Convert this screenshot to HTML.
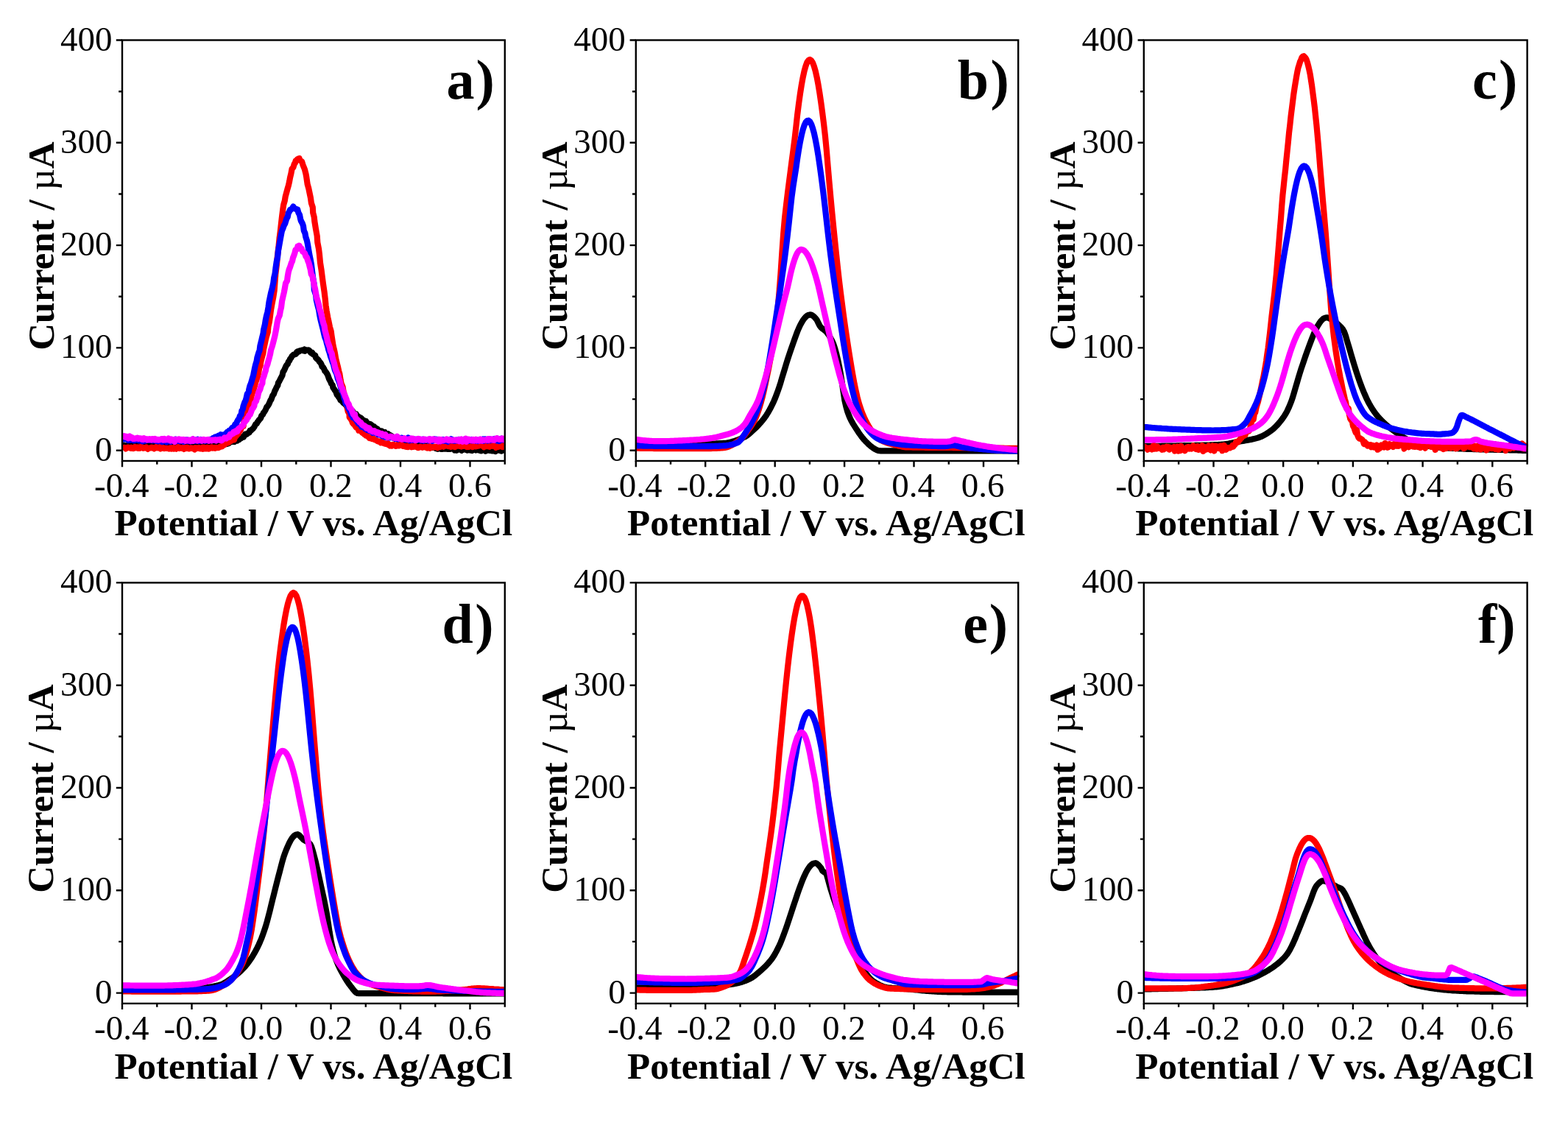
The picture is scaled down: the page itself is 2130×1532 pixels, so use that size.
<!DOCTYPE html>
<html lang="en">
<head>
<meta charset="utf-8">
<title>Differential pulse voltammograms</title>
<style>
html,body{margin:0;padding:0;background:#fff;}
body{width:2130px;height:1532px;overflow:hidden;}
svg{display:block;}
text{font-family:"Liberation Serif","Times New Roman",serif;fill:#000;}
.t text{font-size:47px;}
.a{font-size:51px;font-weight:bold;}
.mu{font-weight:normal;}
.p{font-size:76px;font-weight:bold;}
</style>
</head>
<body>
<svg width="2130" height="1532" viewBox="0 0 2130 1532">
<rect width="2130" height="1532" fill="#fff"/>
<g>
<clipPath id="c00"><rect x="166.0" y="54.5" width="521.1" height="571.5"/></clipPath>
<g clip-path="url(#c00)" fill="none" stroke-linejoin="round" stroke-linecap="butt" stroke-width="8.2">
<polyline stroke="#000000" points="166.0,604.7 166.8,604.5 168.4,605.0 170.0,605.5 170.6,605.2 172.5,605.6 173.5,604.9 174.4,603.9 175.8,605.3 177.0,605.5 178.4,604.6 179.5,604.8 180.7,605.0 182.0,605.8 183.1,605.1 184.3,604.6 185.8,606.2 187.3,605.5 187.9,606.6 189.6,606.2 190.6,606.6 191.8,605.4 193.5,606.2 194.4,605.1 196.2,605.2 196.8,605.5 198.4,607.3 199.4,605.8 200.5,605.4 202.2,605.3 203.2,606.6 204.6,605.8 205.7,606.2 206.7,606.0 208.2,604.6 209.5,606.0 210.9,605.5 211.7,604.8 213.1,605.9 213.9,605.5 215.8,605.3 216.6,605.4 217.6,606.4 219.3,605.4 220.9,604.4 221.4,606.6 222.8,604.8 224.1,605.3 225.3,605.9 226.9,603.9 227.8,604.8 229.1,606.4 230.7,605.4 231.6,605.0 233.1,605.6 234.0,604.9 235.2,605.5 236.2,604.9 238.5,604.3 239.1,605.9 240.5,605.3 241.7,605.8 243.0,605.3 244.2,606.3 246.0,605.9 246.4,605.6 247.5,604.7 248.9,604.6 250.0,606.4 251.8,606.0 253.1,604.9 253.8,607.0 255.0,605.8 256.5,605.5 258.2,604.5 258.3,604.9 260.5,605.7 261.3,605.7 263.1,605.6 263.7,604.3 265.2,605.7 266.1,605.6 267.5,605.1 269.4,605.4 270.5,605.5 271.4,606.2 272.5,605.3 273.4,605.6 275.1,604.3 276.4,604.7 277.7,605.1 278.9,604.6 279.9,605.3 281.4,604.2 282.6,604.9 284.3,604.4 285.7,605.8 286.3,604.5 287.4,606.0 288.8,606.2 289.9,604.8 291.1,605.2 292.6,604.3 293.5,602.6 295.2,604.9 296.3,604.7 297.6,603.9 298.7,603.6 299.8,604.0 301.0,603.9 302.4,603.0 303.6,602.9 305.1,603.8 306.2,602.8 307.1,602.4 308.7,602.9 309.6,601.5 311.0,602.0 312.4,600.1 313.1,600.3 315.0,599.9 316.2,599.9 317.4,599.1 318.5,600.0 319.8,598.8 320.9,597.1 322.3,598.5 323.5,595.6 324.9,597.0 325.8,594.5 327.4,595.2 328.6,593.3 329.8,593.1 330.9,593.6 332.5,590.7 333.1,589.6 334.9,589.9 336.1,589.0 337.3,587.9 338.6,587.5 339.6,584.7 340.9,584.8 342.4,583.1 343.6,582.2 344.8,580.6 345.5,579.6 347.3,576.0 348.8,575.4 350.0,572.8 351.0,571.8 351.7,570.6 353.7,568.5 354.6,566.8 355.2,564.5 357.2,562.8 357.9,560.6 359.2,559.3 360.7,556.7 362.4,552.6 363.2,552.2 364.6,550.1 366.3,546.6 367.5,543.3 368.3,543.0 369.5,539.4 370.4,537.1 371.8,535.4 373.4,530.7 374.6,528.6 375.8,525.7 377.3,523.5 378.0,519.8 379.4,517.8 380.9,514.7 382.1,512.5 383.5,509.8 384.5,505.0 385.6,503.8 387.0,500.7 387.9,498.6 388.9,496.5 390.8,494.3 391.9,491.2 393.2,489.8 393.9,487.8 395.5,485.9 396.7,483.6 397.8,482.7 398.7,481.7 400.5,481.2 402.1,480.8 403.1,478.2 404.1,477.4 405.5,477.8 407.0,476.9 407.2,476.3 409.2,475.9 410.6,475.5 411.9,476.3 413.4,474.7 414.5,476.7 415.5,475.1 416.8,475.6 418.2,475.7 419.0,475.4 420.4,476.2 421.9,478.8 423.4,479.8 424.1,478.8 425.4,481.4 426.7,482.0 428.2,482.7 429.1,486.0 430.8,487.8 431.3,487.6 432.8,489.3 434.0,491.3 435.5,492.8 436.8,495.4 437.4,497.8 438.8,498.7 440.4,501.4 441.3,504.0 442.3,504.7 444.3,507.6 445.4,509.8 446.6,513.5 447.6,515.8 449.2,518.6 450.1,521.1 451.7,522.9 452.4,526.3 453.7,528.1 455.2,530.6 456.2,531.7 457.8,536.4 459.0,536.5 459.9,539.1 461.4,540.7 462.5,543.5 464.1,544.3 464.9,544.9 466.2,546.9 467.9,548.2 469.4,549.9 470.6,550.1 471.3,552.3 472.6,555.2 474.2,555.3 475.0,557.5 476.0,559.6 477.5,558.6 478.9,558.3 479.8,560.3 480.8,562.3 482.1,563.1 483.9,562.5 484.7,564.2 486.2,565.3 487.5,566.3 488.8,567.1 489.8,567.4 491.3,568.5 492.1,569.6 493.5,571.5 494.6,571.1 496.4,572.9 497.4,572.4 498.4,575.0 499.7,575.0 501.0,575.7 502.5,577.5 503.1,576.0 504.5,577.0 505.9,579.3 508.0,579.1 508.8,580.2 509.7,583.3 511.2,581.8 512.8,582.8 513.4,583.5 514.6,585.1 516.3,585.2 517.4,585.8 518.6,585.4 519.6,586.7 521.5,587.6 522.7,587.0 523.6,589.2 524.9,589.7 525.3,591.4 527.3,589.3 528.3,590.3 529.7,590.9 531.1,591.6 532.0,592.6 532.9,593.0 534.7,593.9 535.6,594.3 537.0,594.6 538.1,594.0 539.5,595.2 540.2,596.1 542.4,597.0 543.4,597.4 544.8,596.1 546.3,597.3 547.0,598.0 547.7,598.7 549.2,599.6 550.4,599.1 551.8,598.7 553.2,600.0 553.9,600.1 555.8,600.4 556.5,600.4 558.3,602.0 559.4,601.2 560.6,601.9 561.9,600.9 563.0,602.4 564.2,601.7 565.1,601.2 566.9,603.0 568.6,603.5 569.9,603.3 571.0,603.8 572.0,604.9 572.9,604.1 574.7,603.3 575.5,605.4 576.8,605.7 577.9,606.7 579.3,606.0 580.4,607.6 581.7,607.8 582.7,606.2 584.1,608.2 586.1,606.9 586.7,606.8 587.9,608.0 589.3,608.0 590.6,607.0 591.4,608.8 592.9,609.2 594.4,609.9 595.5,608.9 596.7,607.9 598.3,608.4 598.9,609.9 600.4,610.0 601.5,609.8 603.3,609.2 603.5,609.7 605.1,609.4 606.4,609.4 608.0,610.0 609.2,609.8 610.7,609.7 611.1,610.0 613.0,609.6 613.9,608.6 615.1,609.6 616.7,610.1 617.5,611.5 618.4,610.0 620.1,611.8 621.0,611.4 622.5,609.7 624.1,609.9 625.3,610.6 626.9,611.8 627.6,610.8 628.5,611.1 629.9,610.1 631.1,608.9 632.3,610.5 634.0,611.3 634.9,611.7 635.8,610.8 637.8,611.0 638.8,611.7 640.2,610.8 641.4,611.8 642.7,610.1 643.8,610.2 645.4,610.2 646.4,611.4 647.6,610.7 648.9,611.2 649.6,611.4 651.2,611.4 652.4,612.2 653.8,612.3 654.6,610.7 656.7,611.4 657.5,611.2 658.4,610.6 659.5,612.7 661.1,612.0 662.4,611.3 663.5,611.1 664.9,611.8 666.0,610.7 667.5,611.3 668.4,612.5 669.9,612.3 671.4,610.9 673.1,611.2 673.3,613.1 674.7,610.6 675.8,611.2 677.5,610.6 678.2,611.9 679.7,611.9 681.0,612.5 682.0,609.7 683.2,611.8 684.6,610.5 685.4,612.2"/>
<polyline stroke="#ff0000" points="166.1,609.0 167.4,608.3 168.3,607.9 169.9,608.2 170.8,609.4 171.9,608.4 173.5,607.5 174.9,607.7 175.8,608.2 177.3,608.8 178.4,607.7 180.4,608.6 180.7,609.1 182.5,608.8 183.4,607.1 184.6,608.1 186.1,607.4 187.3,608.7 188.7,607.6 189.7,608.8 190.7,608.5 191.9,606.5 193.4,607.8 194.7,608.8 196.2,608.5 197.1,608.2 198.6,607.5 199.9,608.9 200.8,609.8 201.6,608.7 202.9,608.5 204.1,608.5 206.2,607.6 206.7,608.3 208.5,608.0 209.6,609.4 211.2,607.9 212.2,607.0 213.1,608.0 214.3,608.5 215.7,608.5 216.9,607.3 218.0,609.4 219.4,608.8 221.1,608.3 221.4,608.1 223.2,609.1 224.1,608.5 225.6,609.0 227.0,608.7 228.0,608.9 229.5,609.6 230.1,608.8 232.1,608.1 232.8,609.5 234.4,609.0 235.5,608.3 236.0,609.6 237.8,608.7 239.3,609.7 240.9,608.0 241.8,607.1 243.0,607.3 243.8,609.0 245.8,608.3 247.2,608.8 247.9,608.8 249.1,607.7 249.9,609.9 251.9,608.1 253.6,608.9 254.3,607.8 255.7,608.8 256.7,609.4 257.6,608.7 259.5,608.3 260.0,608.9 261.5,608.5 262.9,609.3 264.3,610.5 265.4,608.2 266.6,608.4 267.6,608.8 268.6,608.8 270.3,608.1 271.3,609.2 272.4,609.4 273.6,609.0 275.1,607.9 275.9,609.8 277.3,607.8 278.5,609.2 280.2,609.5 281.5,607.7 283.2,608.7 283.5,609.6 285.0,608.8 286.6,607.8 287.6,607.5 288.8,608.7 290.6,608.1 291.3,607.8 292.3,608.8 293.5,607.9 295.2,608.1 296.4,608.2 297.2,607.9 298.5,607.0 300.2,606.5 301.4,606.4 302.3,605.7 303.9,603.9 305.2,603.9 305.7,602.7 307.4,601.8 308.8,601.6 309.8,599.6 310.6,601.2 312.4,599.1 313.9,599.0 315.4,596.4 315.6,595.5 318.1,597.2 318.3,595.3 320.2,592.8 321.5,591.3 322.6,589.9 323.7,589.0 324.5,586.9 326.3,585.0 327.1,583.3 327.9,579.6 330.6,578.9 331.3,573.0 332.8,570.4 333.3,564.7 335.2,561.5 336.5,557.9 337.7,552.9 338.5,550.1 339.4,546.2 340.9,542.7 341.6,537.5 343.0,533.0 344.7,528.4 345.7,524.9 347.1,519.6 348.4,515.8 350.2,511.1 351.3,505.7 352.1,500.3 353.7,496.2 354.4,490.9 355.8,485.4 357.4,479.8 358.0,475.0 359.5,467.9 360.5,463.1 362.1,456.4 363.8,451.1 364.4,443.7 365.9,437.0 366.8,430.6 368.0,421.2 369.2,414.3 371.2,404.0 372.7,394.3 373.4,384.5 374.3,372.5 375.9,359.8 376.9,347.9 378.4,335.8 379.5,324.3 380.8,314.2 382.1,302.4 383.0,294.5 384.3,284.2 385.2,278.2 386.8,272.6 387.7,267.0 389.3,261.1 390.4,257.0 391.9,251.9 393.2,246.1 394.0,241.5 395.4,235.7 396.6,229.3 398.3,227.5 399.8,222.7 400.8,221.5 401.7,218.4 403.5,217.4 403.9,216.2 405.9,215.4 406.6,215.2 407.2,217.7 410.0,219.3 410.9,222.1 411.4,223.7 413.0,227.7 414.1,230.7 415.5,236.2 416.3,240.8 417.7,250.4 419.3,256.0 420.5,261.9 422.0,269.2 422.9,275.7 424.8,281.6 425.2,289.0 426.7,294.7 427.3,300.5 428.8,309.8 430.7,320.4 431.3,329.3 433.0,338.0 434.0,346.1 435.0,356.9 436.5,366.3 437.6,374.9 438.9,385.0 440.5,395.8 441.7,405.7 442.6,415.0 443.7,422.4 445.3,431.1 446.4,436.1 448.0,444.1 449.7,449.9 450.4,455.2 451.4,461.9 452.6,469.6 453.7,473.9 454.9,479.4 456.1,486.6 457.5,492.5 458.8,497.5 460.3,504.2 461.3,507.4 462.6,515.9 463.5,520.5 465.6,525.5 466.5,531.3 468.1,536.7 469.0,542.2 470.5,547.9 471.2,551.7 472.7,559.0 474.5,562.0 474.7,566.6 476.6,569.0 478.0,571.3 478.9,574.2 480.2,575.8 481.6,576.4 482.3,578.2 483.8,580.4 484.7,579.6 486.0,580.6 487.3,584.7 488.6,584.5 490.0,583.9 491.3,586.3 492.0,587.7 494.2,588.9 495.2,590.1 496.3,590.6 497.3,591.7 498.6,591.4 500.0,593.0 501.2,593.8 501.8,595.1 503.8,594.8 505.6,596.1 505.5,596.2 507.6,595.9 508.6,596.9 509.7,597.4 511.4,598.0 511.9,598.7 513.5,599.3 515.2,599.9 515.9,599.5 517.1,601.3 518.5,599.8 519.6,601.2 521.4,602.1 521.9,602.3 523.7,602.8 524.3,602.4 526.1,603.4 527.1,602.3 527.6,604.0 529.6,605.4 530.6,604.4 532.0,605.6 533.8,604.3 534.3,603.7 535.5,604.2 537.5,605.9 538.3,605.6 540.0,603.8 540.9,605.1 541.8,605.5 543.3,604.8 544.9,603.9 546.0,604.9 547.0,605.8 548.3,605.7 549.5,605.6 550.6,606.6 552.5,607.0 553.2,606.2 554.1,607.1 555.6,606.5 557.1,606.4 558.4,604.7 559.4,607.2 560.5,606.7 561.9,606.8 562.7,606.4 564.0,606.0 565.8,607.2 566.7,607.5 568.2,608.2 569.7,607.7 570.8,606.6 571.8,607.0 573.7,607.8 574.5,607.4 575.4,607.1 577.0,606.7 578.1,607.6 579.0,607.3 580.5,608.5 581.7,608.0 582.4,605.9 584.2,608.8 585.4,607.3 586.6,606.9 587.5,607.3 589.1,607.6 590.4,606.9 591.7,606.8 592.6,606.8 594.3,608.2 595.1,606.8 596.6,607.2 598.3,606.9 598.9,606.3 600.2,605.9 601.9,605.6 602.7,606.6 604.0,605.5 605.4,605.2 606.9,605.2 607.2,604.9 608.8,606.1 610.0,606.1 611.2,605.3 612.5,606.9 613.8,605.7 615.3,606.3 616.2,606.1 617.8,607.2 619.1,606.5 620.0,605.9 621.5,605.2 623.2,605.1 624.0,605.9 625.0,606.0 626.4,606.5 627.4,605.5 629.0,606.0 630.4,605.4 631.2,604.5 632.6,605.9 634.2,607.0 635.0,606.5 636.4,607.0 637.3,606.8 638.6,604.9 639.9,605.7 641.9,607.0 642.4,605.4 643.7,604.9 644.9,606.1 646.2,606.4 647.7,606.1 648.8,605.7 650.6,605.4 651.3,605.0 652.9,605.0 653.8,605.0 655.1,604.9 655.8,605.4 657.4,607.1 658.7,606.0 659.9,605.7 660.6,606.2 662.7,605.2 663.6,606.2 664.8,606.7 666.1,604.8 667.3,605.5 668.7,605.8 669.5,605.3 670.8,605.2 672.4,605.7 673.6,607.9 674.7,606.5 675.9,606.4 677.1,606.8 678.5,605.9 680.1,605.1 680.7,606.4 682.7,607.0 683.8,604.5 684.6,606.5 686.2,607.1"/>
<polyline stroke="#0000ff" points="166.4,596.1 167.2,596.5 168.8,596.4 169.9,595.9 170.9,596.0 172.2,596.3 173.5,596.0 174.4,597.9 176.3,596.1 176.8,597.7 178.7,597.3 179.9,597.3 180.9,598.0 181.9,598.3 183.3,598.1 184.7,597.5 186.1,597.1 187.2,597.2 188.6,598.5 189.4,598.4 190.9,598.5 191.6,597.5 193.5,599.4 194.6,597.0 195.7,598.3 197.4,598.6 198.5,597.7 198.7,597.2 200.8,597.8 201.6,597.3 203.5,598.0 205.2,597.2 205.6,597.2 207.0,598.3 208.1,597.1 209.5,598.1 210.9,598.2 212.3,599.0 212.9,598.5 214.8,597.7 215.4,599.3 217.0,597.8 218.4,598.1 219.6,598.2 220.3,600.1 221.7,598.5 223.0,597.9 224.3,599.0 225.9,598.4 226.4,600.3 228.2,597.9 229.5,599.0 230.7,597.8 231.9,599.9 233.4,597.9 234.4,598.6 235.7,597.8 236.9,599.2 238.5,598.9 238.7,596.7 240.8,599.1 241.6,599.0 242.9,598.7 243.9,599.2 244.9,597.5 246.6,597.1 247.7,599.0 249.3,599.8 250.0,597.5 252.0,597.6 252.9,597.8 254.0,597.5 255.2,599.1 256.4,598.5 257.5,599.4 258.9,599.4 260.3,597.6 261.5,598.8 262.4,596.6 264.0,598.2 265.0,598.8 266.6,597.6 268.3,596.8 269.2,597.8 270.2,599.1 271.0,597.9 272.3,597.1 273.5,598.5 275.4,598.6 276.2,597.2 277.7,597.9 278.8,598.8 280.2,598.2 281.8,598.4 282.5,597.6 283.8,597.7 284.9,596.8 286.6,596.8 287.3,598.0 288.5,595.9 289.7,594.8 291.0,594.4 292.7,593.3 294.5,594.0 294.8,593.8 296.6,591.8 297.6,592.9 298.5,593.3 300.0,590.4 301.2,591.3 302.3,590.5 304.3,590.8 304.5,590.2 306.3,589.4 307.6,588.1 308.6,586.8 310.0,588.0 311.4,584.7 312.5,585.2 313.8,584.0 315.1,581.5 315.6,580.8 317.8,580.5 319.3,576.5 320.2,577.0 321.4,574.5 322.0,572.7 323.6,569.9 324.6,569.1 325.9,565.0 327.6,563.0 328.4,558.0 329.8,555.7 330.5,551.8 332.3,546.5 333.6,544.1 334.6,540.5 335.8,535.0 337.8,532.5 338.2,529.3 339.5,523.9 340.8,521.1 342.6,514.8 344.1,510.0 344.8,506.4 345.8,501.2 347.1,495.4 348.7,490.2 349.4,485.7 351.3,479.3 352.6,476.0 353.4,469.5 354.8,464.1 356.1,458.5 357.6,452.5 358.1,447.9 359.9,440.6 360.7,435.1 361.9,429.3 363.4,423.7 364.5,417.4 365.5,410.1 366.6,404.9 368.0,398.0 369.9,390.9 371.3,384.4 372.2,377.2 373.6,371.4 374.4,364.7 375.7,355.7 377.1,349.0 377.9,340.8 379.2,333.8 380.7,325.2 381.9,318.8 382.9,313.8 384.5,309.9 385.6,306.6 387.2,303.7 388.1,300.8 389.3,297.0 390.7,294.7 391.8,289.3 392.9,287.7 394.2,284.8 395.8,284.2 397.0,283.1 398.4,280.6 398.8,282.0 400.4,283.2 401.7,283.7 403.1,284.9 404.2,284.6 405.4,288.8 407.0,291.9 408.1,297.3 408.9,300.0 410.9,303.7 412.0,307.0 412.8,313.2 414.4,316.7 415.2,321.4 417.0,327.1 417.9,331.5 418.9,337.5 420.3,345.7 421.4,350.8 423.0,359.4 424.2,369.4 425.4,379.1 426.5,385.1 426.8,393.8 429.1,400.7 429.8,407.5 431.7,415.6 433.1,420.8 434.1,427.5 435.2,433.0 436.5,438.4 437.8,443.5 438.9,447.6 440.1,453.2 441.3,458.0 443.1,462.6 444.0,466.5 445.5,471.6 446.4,475.5 447.7,479.2 448.9,483.7 450.3,487.4 451.7,491.8 452.7,493.8 453.7,498.2 454.9,502.7 456.9,507.0 457.6,509.0 458.8,514.2 460.5,518.2 461.7,521.7 462.8,525.5 463.7,528.6 465.8,533.5 466.4,535.7 467.7,541.6 468.8,543.9 469.7,548.4 470.9,549.2 472.7,553.5 473.9,555.8 475.0,557.4 475.9,559.4 477.1,563.3 478.7,564.7 479.6,567.3 481.5,567.8 482.8,569.5 484.5,571.2 485.2,572.8 486.0,573.9 487.2,575.5 487.7,575.7 489.7,576.0 491.1,579.7 492.7,579.3 493.8,580.4 495.0,580.6 496.2,582.4 497.5,582.5 499.0,583.9 499.5,583.2 501.0,584.3 501.9,585.1 504.0,585.3 505.2,586.3 506.3,587.8 507.0,586.7 508.6,587.4 509.7,588.2 511.0,587.8 512.2,588.0 513.6,590.2 514.6,590.4 516.2,589.1 517.3,589.6 518.4,591.6 519.7,592.4 520.8,592.3 522.4,592.6 523.3,593.8 524.7,592.9 525.8,594.2 526.7,594.4 528.6,593.0 529.3,594.5 531.1,594.3 532.2,593.9 532.9,594.0 534.3,595.0 535.7,594.9 536.8,595.8 538.0,594.0 539.8,594.9 540.7,596.4 542.1,595.7 543.2,595.3 544.6,595.6 545.6,594.6 547.0,595.1 548.4,596.6 549.5,596.4 550.6,597.3 551.7,596.2 553.3,596.4 554.5,594.5 555.6,596.5 556.7,598.3 558.3,597.3 560.1,596.7 560.6,597.8 562.0,597.6 563.2,597.2 563.7,596.7 565.7,597.2 566.7,597.8 568.5,596.5 569.3,597.6 570.4,597.6 571.8,598.3 573.1,597.9 574.1,596.8 575.5,598.6 576.4,597.5 578.0,596.9 579.5,597.7 581.1,597.3 581.9,598.4 583.1,596.5 584.6,596.7 585.8,597.4 587.2,599.0 588.3,598.5 589.2,596.9 590.5,596.4 591.7,597.5 593.0,596.8 594.2,598.3 595.2,598.0 596.1,597.8 597.7,597.5 598.6,599.1 600.4,597.2 601.6,596.9 602.4,598.8 604.3,599.0 605.6,597.7 606.6,598.5 608.3,599.8 609.6,597.4 610.0,597.9 611.8,598.4 612.9,596.4 614.1,597.9 615.5,598.6 616.3,598.0 617.6,598.8 618.8,598.6 620.0,597.7 621.4,598.5 622.3,598.4 623.7,596.8 625.4,597.4 626.4,597.4 627.8,597.6 628.4,597.7 629.9,596.9 631.2,598.0 632.6,596.6 633.7,598.7 635.4,598.2 636.3,599.0 637.6,598.2 638.8,597.6 640.3,596.9 641.2,598.5 642.9,597.9 643.9,598.2 645.1,598.5 646.3,598.8 647.7,597.8 649.1,599.2 650.3,597.8 651.4,597.8 652.7,598.3 653.8,598.6 655.3,598.9 656.2,596.4 656.9,598.8 659.1,596.6 660.0,597.3 660.9,598.0 662.4,598.6 663.4,596.9 665.5,596.3 666.3,598.3 666.9,597.8 668.8,596.8 669.8,597.3 671.6,596.0 672.1,597.9 673.0,597.0 674.8,598.4 676.0,595.8 677.2,597.9 678.0,599.0 679.9,597.4 681.5,597.3 681.7,595.7 683.8,597.4 684.6,597.1 686.7,596.6"/>
<polyline stroke="#ff00ff" points="166.4,592.1 167.3,592.8 168.4,592.1 170.1,592.7 170.9,593.8 172.1,593.0 173.3,594.1 174.1,595.3 176.2,592.5 176.8,594.5 178.3,594.9 179.4,594.3 181.1,596.0 182.1,595.9 183.4,595.4 184.1,595.6 185.8,595.3 186.7,594.6 188.4,595.9 189.7,595.3 190.8,595.3 192.6,596.7 193.5,595.8 194.7,596.8 195.8,595.3 197.0,595.9 198.5,596.3 199.8,597.4 200.4,596.4 202.3,597.2 203.4,596.1 204.7,596.8 205.8,597.4 206.6,596.1 207.9,596.3 209.9,597.4 210.7,596.1 211.5,597.3 213.3,597.3 214.3,597.0 215.1,597.7 216.2,597.5 217.7,597.3 219.4,596.0 220.6,596.1 221.8,597.5 223.2,596.1 224.5,597.4 225.0,597.1 226.7,596.7 227.8,597.2 228.9,595.6 230.4,597.3 231.7,598.4 232.9,596.5 233.9,597.8 235.4,597.8 237.3,599.9 237.7,596.8 238.7,597.0 240.5,597.0 241.9,596.9 243.1,596.4 243.9,597.7 245.7,597.0 246.4,598.3 247.6,598.0 249.0,596.9 250.4,597.4 251.8,598.8 253.0,597.5 254.1,597.9 255.6,598.4 256.6,597.4 258.1,598.1 258.7,599.0 259.9,598.6 261.8,596.4 262.4,598.9 264.0,597.6 265.3,597.3 266.4,597.3 267.6,598.7 269.4,598.0 269.5,597.6 271.7,597.1 273.4,598.2 274.0,598.6 275.2,597.0 276.7,596.9 278.2,597.4 278.6,598.2 280.2,597.4 281.4,597.6 282.8,597.0 283.9,598.6 285.3,597.6 286.3,597.8 287.6,598.5 288.7,597.5 289.9,597.6 291.3,597.9 292.5,597.3 293.5,598.6 295.5,597.6 296.3,597.2 297.2,597.3 299.1,596.7 299.8,598.3 301.4,598.3 302.5,596.7 303.8,596.1 305.0,594.4 306.1,595.0 307.5,595.5 309.3,593.6 309.3,594.1 311.2,593.8 312.6,589.9 313.4,590.8 314.5,589.6 316.8,588.9 317.3,587.0 319.2,587.3 320.0,585.6 321.2,586.5 322.5,585.8 323.8,582.6 325.2,581.4 326.2,580.9 327.4,579.9 328.6,578.5 330.2,577.7 331.3,574.5 332.0,573.6 333.4,572.1 334.9,570.4 335.8,568.1 337.2,566.6 338.2,564.2 339.7,563.2 341.1,559.3 342.5,555.4 343.5,554.6 345.3,551.5 345.9,547.7 348.1,544.6 348.7,541.6 349.8,540.0 350.8,534.9 351.4,532.6 353.4,528.7 354.7,523.9 356.4,520.7 356.7,515.9 358.9,509.9 359.5,507.4 361.0,503.0 361.4,499.6 363.4,494.7 364.5,490.3 366.0,485.1 367.1,480.7 368.0,475.5 369.8,470.2 371.0,465.7 372.2,460.9 373.5,455.7 374.8,449.1 375.7,444.1 376.6,438.1 377.8,432.7 379.8,428.3 380.9,422.0 382.0,417.8 383.1,408.8 384.4,403.1 385.7,397.6 386.8,391.9 388.0,384.9 390.0,381.4 390.7,375.7 391.7,370.0 392.7,366.1 394.2,362.4 395.8,357.2 397.0,354.9 398.0,350.1 399.3,346.9 400.5,343.3 401.5,339.3 403.4,338.5 404.4,334.7 406.2,335.6 406.6,333.7 408.0,337.0 409.5,337.2 410.4,340.1 411.3,341.8 412.7,342.6 414.2,344.4 415.5,348.4 416.7,349.3 418.2,354.1 419.5,357.3 420.5,361.4 421.7,365.8 422.8,372.5 424.3,374.8 425.6,380.6 426.6,386.3 428.0,392.0 429.0,398.0 429.9,403.3 431.3,407.5 433.0,413.7 434.2,419.5 435.8,424.2 436.6,427.7 438.0,434.1 439.4,439.3 440.6,442.7 441.3,448.2 442.7,453.3 444.0,458.5 445.0,463.8 446.6,468.1 448.0,472.1 448.8,476.4 450.8,480.3 451.4,484.5 452.6,488.9 453.9,493.1 455.0,498.2 456.5,503.2 457.7,505.9 459.4,510.2 460.3,513.8 461.5,517.2 462.5,521.6 463.5,525.1 465.1,528.0 466.1,531.4 467.8,535.5 468.8,538.0 470.5,541.8 471.5,545.6 472.8,547.7 473.8,549.1 475.1,553.6 476.4,554.7 477.8,556.8 478.5,559.0 480.1,562.9 482.0,562.7 482.4,566.0 483.6,568.0 484.8,569.6 485.8,570.4 487.8,572.2 488.7,573.6 490.0,573.8 491.7,576.5 493.1,577.8 493.4,577.4 495.2,578.4 496.3,579.0 497.5,581.4 498.7,580.5 499.8,581.7 501.5,581.4 502.5,584.3 503.7,583.8 505.2,584.8 506.3,586.3 507.4,586.2 508.6,585.3 510.3,587.0 511.2,587.7 512.2,586.9 513.3,587.3 514.6,587.7 515.7,589.5 517.2,589.4 518.5,589.0 519.1,590.7 520.9,591.2 522.4,590.4 523.5,590.2 524.4,592.6 526.3,594.1 527.0,593.5 528.0,593.5 529.3,593.1 530.9,592.7 532.4,593.6 533.7,594.2 534.7,593.8 535.5,594.9 536.9,594.4 538.1,595.0 539.5,592.7 540.3,594.3 542.1,595.7 543.5,596.0 544.5,595.7 545.9,596.8 546.7,596.2 547.8,596.3 549.3,595.1 551.0,596.2 552.3,596.6 553.1,597.1 554.8,597.1 555.6,596.3 557.4,596.5 558.3,595.5 559.3,596.9 560.9,595.7 561.7,596.3 562.9,596.6 564.0,598.2 565.7,597.7 566.8,596.2 568.1,595.8 569.2,596.7 571.0,596.4 571.7,597.3 572.9,597.4 574.7,597.6 575.9,596.4 576.9,596.9 577.5,597.4 579.1,597.5 580.7,596.9 581.8,597.1 583.4,598.0 583.9,596.1 585.7,597.2 586.5,597.4 588.3,596.3 589.2,596.7 590.7,597.6 591.5,597.1 592.5,598.4 593.9,598.1 595.2,599.3 596.4,596.7 598.2,599.1 599.5,597.1 600.4,598.3 601.3,598.4 602.8,597.8 603.9,597.5 605.7,597.3 606.7,596.4 608.0,597.5 608.9,597.1 609.7,598.2 611.3,597.2 612.5,597.6 614.1,598.1 615.3,597.8 616.3,597.8 617.6,597.6 619.4,597.5 620.0,598.2 621.2,598.3 622.6,597.2 623.8,599.1 625.1,598.2 626.6,596.5 628.2,599.8 628.4,598.3 630.1,597.2 631.4,599.0 632.6,595.7 633.8,599.7 635.0,596.6 636.6,596.5 637.5,596.9 638.8,597.8 640.1,597.3 641.4,598.3 642.5,597.0 644.1,598.4 645.0,597.7 646.3,596.8 647.5,598.4 648.5,597.8 649.8,597.3 651.0,598.5 652.5,596.5 653.5,597.1 654.7,598.5 656.3,597.4 657.6,597.9 658.2,597.8 660.4,597.2 661.2,597.7 662.4,596.4 664.0,597.7 664.9,596.4 666.0,597.1 668.0,596.4 668.3,597.4 669.8,597.3 671.3,597.8 672.0,596.4 673.6,596.1 674.9,595.2 676.7,595.8 677.1,596.5 678.5,596.8 680.0,596.3 681.1,596.6 681.9,595.4 683.6,595.8 684.8,597.1 686.1,596.9"/>
</g>
<g stroke="#000" stroke-width="2.4" fill="none" stroke-linecap="butt">
<rect x="166.0" y="54.5" width="519.8" height="571.5"/>
<path d="M166.0 626.0v8.2M213.3 626.0v4.8M260.5 626.0v8.2M307.8 626.0v4.8M355.0 626.0v8.2M402.3 626.0v4.8M449.5 626.0v8.2M496.8 626.0v4.8M544.0 626.0v8.2M591.3 626.0v4.8M638.5 626.0v8.2M685.8 626.0v4.8M166.0 611.7h-8.2M166.0 542.1h-4.8M166.0 472.4h-8.2M166.0 402.8h-4.8M166.0 333.1h-8.2M166.0 263.5h-4.8M166.0 193.8h-8.2M166.0 124.2h-4.8M166.0 54.5h-8.2"/>
</g>
<g class="t">
<text x="165.2" y="675.1" text-anchor="middle">-0.4</text>
<text x="259.7" y="675.1" text-anchor="middle">-0.2</text>
<text x="354.8" y="675.1" text-anchor="middle">0.0</text>
<text x="449.3" y="675.1" text-anchor="middle">0.2</text>
<text x="543.8" y="675.1" text-anchor="middle">0.4</text>
<text x="638.3" y="675.1" text-anchor="middle">0.6</text>
<text x="152.6" y="625.7" text-anchor="end">0</text>
<text x="152.6" y="486.4" text-anchor="end">100</text>
<text x="152.6" y="347.1" text-anchor="end">200</text>
<text x="152.6" y="207.8" text-anchor="end">300</text>
<text x="152.6" y="68.5" text-anchor="end">400</text>
</g>
<text class="a" x="425.8" y="727.2" text-anchor="middle">Potential / V vs. Ag/AgCl</text>
<text class="a" transform="translate(73.2 334.1) rotate(-90)" text-anchor="middle">Current / <tspan class="mu">µ</tspan>A</text>
<text class="p" x="671.9" y="133.8" text-anchor="end">a<tspan dx="2.2">)</tspan></text>
</g>
<g>
<clipPath id="c10"><rect x="863.8" y="54.5" width="520.7" height="571.5"/></clipPath>
<g clip-path="url(#c10)" fill="none" stroke-linejoin="round" stroke-linecap="butt" stroke-width="8.2">
<polyline stroke="#000000" points="863.8,604.2 865.7,604.2 867.6,604.2 869.5,604.2 871.4,604.2 873.3,604.2 875.1,604.2 877.0,604.2 878.9,604.1 880.8,604.1 882.7,604.1 884.6,604.1 886.5,604.1 888.4,604.1 890.3,604.0 892.2,604.0 894.1,604.0 895.9,604.0 897.8,604.0 899.7,603.9 901.6,603.9 903.5,603.9 905.4,603.9 907.3,603.8 909.2,603.8 911.1,603.8 913.0,603.8 914.9,603.7 916.7,603.7 918.6,603.7 920.5,603.6 922.4,603.6 924.3,603.6 926.2,603.5 928.1,603.5 930.0,603.5 931.9,603.5 933.8,603.4 935.7,603.4 937.5,603.4 939.4,603.3 941.3,603.3 943.2,603.3 945.1,603.2 947.0,603.2 948.9,603.2 950.8,603.1 952.7,603.1 954.6,603.0 956.5,603.0 958.3,602.9 960.2,602.9 962.1,602.8 964.0,602.8 965.9,602.7 967.8,602.6 969.7,602.6 971.6,602.5 973.5,602.4 975.4,602.3 977.3,602.2 979.1,602.1 981.0,602.0 982.9,601.9 984.8,601.8 986.7,601.6 988.6,601.3 990.5,600.9 992.4,600.5 994.3,600.0 996.2,599.4 998.1,598.8 999.9,598.2 1001.8,597.5 1003.7,596.8 1005.6,596.0 1007.5,595.2 1009.4,594.4 1011.3,593.5 1013.2,592.5 1015.1,591.3 1017.0,589.8 1018.9,588.2 1020.7,586.5 1022.6,584.8 1024.5,583.0 1026.4,581.2 1028.3,579.4 1030.2,577.4 1032.1,575.3 1034.0,573.2 1035.9,570.9 1037.8,568.5 1039.7,565.9 1041.5,563.2 1043.4,560.1 1045.3,556.8 1047.2,553.3 1049.1,549.4 1051.0,545.4 1052.9,541.0 1054.8,536.0 1056.7,530.8 1058.6,525.3 1060.5,519.4 1062.3,513.2 1064.2,507.0 1066.1,500.7 1068.0,494.4 1069.9,488.3 1071.8,482.4 1073.7,476.9 1075.6,471.4 1077.5,466.0 1079.4,460.6 1081.3,455.4 1083.1,450.5 1085.0,446.0 1086.9,441.9 1088.8,438.3 1090.7,435.2 1092.6,432.5 1094.5,430.4 1096.4,428.7 1098.3,427.9 1100.2,427.4 1102.1,427.6 1103.9,428.6 1105.8,430.2 1107.7,432.1 1109.6,434.5 1111.5,438.4 1113.4,442.2 1115.3,444.7 1117.2,446.4 1119.1,447.8 1121.0,449.3 1122.9,451.1 1124.7,453.5 1126.6,456.3 1128.5,459.5 1130.4,463.2 1132.3,467.5 1134.2,473.2 1136.1,480.3 1138.0,488.1 1139.9,497.0 1141.8,507.2 1143.7,518.9 1145.5,531.4 1147.4,543.8 1149.3,552.1 1151.2,558.8 1153.1,564.1 1155.0,568.5 1156.9,572.3 1158.8,575.6 1160.7,578.6 1162.6,581.6 1164.5,584.5 1166.3,587.3 1168.2,590.0 1170.1,592.6 1172.0,595.0 1173.9,597.2 1175.8,599.3 1177.7,601.2 1179.6,603.1 1181.5,604.8 1183.4,606.4 1185.3,607.8 1187.1,609.0 1189.0,610.2 1190.9,611.2 1192.8,611.9 1194.7,612.2 1196.6,612.4 1198.5,612.4 1200.4,612.4 1202.3,612.4 1204.2,612.4 1206.1,612.4 1207.9,612.4 1209.8,612.4 1211.7,612.4 1213.6,612.4 1215.5,612.4 1217.4,612.4 1219.3,612.4 1221.2,612.4 1223.1,612.4 1225.0,612.4 1226.9,612.4 1228.7,612.4 1230.6,612.4 1232.5,612.4 1234.4,612.4 1236.3,612.4 1238.2,612.4 1240.1,612.4 1242.0,612.4 1243.9,612.4 1245.8,612.4 1247.7,612.4 1249.5,612.4 1251.4,612.4 1253.3,612.4 1255.2,612.4 1257.1,612.4 1259.0,612.4 1260.9,612.4 1262.8,612.4 1264.7,612.4 1266.6,612.4 1268.5,612.4 1270.3,612.4 1272.2,612.4 1274.1,612.4 1276.0,612.4 1277.9,612.4 1279.8,612.4 1281.7,612.4 1283.6,612.4 1285.5,612.4 1287.4,612.4 1289.3,612.4 1291.1,612.4 1293.0,612.4 1294.9,612.4 1296.8,612.4 1298.7,612.4 1300.6,612.4 1302.5,612.4 1304.4,612.4 1306.3,612.4 1308.2,612.4 1310.1,612.4 1311.9,612.4 1313.8,612.4 1315.7,612.4 1317.6,612.4 1319.5,612.4 1321.4,612.4 1323.3,612.4 1325.2,612.4 1327.1,612.4 1329.0,612.4 1330.9,612.4 1332.7,612.4 1334.6,612.4 1336.5,612.4 1338.4,612.4 1340.3,612.4 1342.2,612.4 1344.1,612.4 1346.0,612.4 1347.9,612.4 1349.8,612.4 1351.7,612.4 1353.5,612.4 1355.4,612.4 1357.3,612.4 1359.2,612.4 1361.1,612.4 1363.0,612.4 1364.9,612.4 1366.8,612.4 1368.7,612.4 1370.6,612.4 1372.5,612.4 1374.3,612.4 1376.2,612.4 1378.1,612.4 1380.0,612.4 1381.9,612.4 1383.8,612.4"/>
<polyline stroke="#ff0000" points="863.8,608.7 865.7,608.7 867.6,608.7 869.5,608.8 871.4,608.8 873.3,608.8 875.1,608.9 877.0,608.9 878.9,608.9 880.8,609.0 882.7,609.0 884.6,609.0 886.5,609.0 888.4,609.1 890.3,609.1 892.2,609.1 894.1,609.1 895.9,609.1 897.8,609.1 899.7,609.2 901.6,609.2 903.5,609.2 905.4,609.2 907.3,609.2 909.2,609.2 911.1,609.2 913.0,609.2 914.9,609.2 916.7,609.2 918.6,609.2 920.5,609.2 922.4,609.2 924.3,609.2 926.2,609.2 928.1,609.2 930.0,609.2 931.9,609.2 933.8,609.2 935.7,609.2 937.5,609.2 939.4,609.2 941.3,609.2 943.2,609.2 945.1,609.2 947.0,609.2 948.9,609.2 950.8,609.2 952.7,609.2 954.6,609.2 956.5,609.2 958.3,609.2 960.2,609.2 962.1,609.2 964.0,609.1 965.9,609.1 967.8,609.0 969.7,608.9 971.6,608.9 973.5,608.8 975.4,608.7 977.3,608.6 979.1,608.4 981.0,608.3 982.9,608.2 984.8,607.9 986.7,607.5 988.6,607.0 990.5,606.3 992.4,605.4 994.3,604.5 996.2,603.4 998.1,602.2 999.9,601.0 1001.8,599.6 1003.7,598.3 1005.6,596.8 1007.5,595.4 1009.4,593.5 1011.3,591.1 1013.2,588.6 1015.1,585.9 1017.0,583.2 1018.9,580.6 1020.7,578.0 1022.6,575.1 1024.5,571.8 1026.4,568.0 1028.3,563.3 1030.2,557.9 1032.1,552.0 1034.0,545.5 1035.9,538.4 1037.8,530.3 1039.7,521.7 1041.5,512.9 1043.4,503.8 1045.3,494.2 1047.2,484.0 1049.1,473.1 1051.0,461.4 1052.9,448.7 1054.8,434.6 1056.7,417.2 1058.6,395.6 1060.5,370.8 1062.3,343.5 1064.2,316.7 1066.1,295.2 1068.0,278.4 1069.9,262.8 1071.8,247.8 1073.7,233.2 1075.6,218.6 1077.5,204.2 1079.4,189.4 1081.3,173.0 1083.1,156.3 1085.0,141.3 1086.9,127.6 1088.8,115.5 1090.7,105.1 1092.6,96.4 1094.5,89.6 1096.4,84.5 1098.3,82.0 1100.2,81.0 1102.1,82.2 1103.9,84.9 1105.8,89.9 1107.7,96.4 1109.6,104.8 1111.5,114.8 1113.4,126.3 1115.3,139.4 1117.2,153.5 1119.1,168.5 1121.0,185.2 1122.9,205.1 1124.7,226.9 1126.6,248.6 1128.5,269.7 1130.4,289.8 1132.3,309.2 1134.2,328.0 1136.1,346.2 1138.0,363.9 1139.9,380.9 1141.8,396.6 1143.7,411.3 1145.5,425.3 1147.4,439.0 1149.3,452.2 1151.2,464.9 1153.1,477.1 1155.0,489.0 1156.9,500.4 1158.8,511.3 1160.7,521.7 1162.6,530.7 1164.5,538.9 1166.3,545.9 1168.2,552.1 1170.1,557.6 1172.0,562.6 1173.9,566.9 1175.8,570.9 1177.7,574.7 1179.6,578.1 1181.5,581.2 1183.4,584.0 1185.3,586.5 1187.1,588.8 1189.0,591.0 1190.9,593.1 1192.8,594.9 1194.7,596.5 1196.6,597.8 1198.5,598.8 1200.4,599.7 1202.3,600.4 1204.2,601.1 1206.1,601.8 1207.9,602.4 1209.8,602.9 1211.7,603.4 1213.6,603.8 1215.5,604.3 1217.4,604.8 1219.3,605.2 1221.2,605.7 1223.1,606.1 1225.0,606.5 1226.9,606.9 1228.7,607.1 1230.6,607.3 1232.5,607.4 1234.4,607.5 1236.3,607.5 1238.2,607.5 1240.1,607.6 1242.0,607.6 1243.9,607.6 1245.8,607.7 1247.7,607.7 1249.5,607.7 1251.4,607.7 1253.3,607.7 1255.2,607.7 1257.1,607.8 1259.0,607.8 1260.9,607.8 1262.8,607.8 1264.7,607.8 1266.6,607.8 1268.5,607.8 1270.3,607.8 1272.2,607.9 1274.1,607.9 1276.0,607.9 1277.9,607.9 1279.8,607.9 1281.7,607.9 1283.6,607.9 1285.5,608.0 1287.4,608.0 1289.3,608.0 1291.1,608.0 1293.0,608.0 1294.9,608.1 1296.8,608.1 1298.7,608.1 1300.6,608.1 1302.5,608.1 1304.4,608.2 1306.3,608.2 1308.2,608.2 1310.1,608.2 1311.9,608.2 1313.8,608.2 1315.7,608.3 1317.6,608.3 1319.5,608.3 1321.4,608.3 1323.3,608.3 1325.2,608.4 1327.1,608.4 1329.0,608.4 1330.9,608.4 1332.7,608.4 1334.6,608.5 1336.5,608.5 1338.4,608.5 1340.3,608.5 1342.2,608.5 1344.1,608.6 1346.0,608.6 1347.9,608.6 1349.8,608.6 1351.7,608.6 1353.5,608.6 1355.4,608.7 1357.3,608.7 1359.2,608.7 1361.1,608.7 1363.0,608.7 1364.9,608.8 1366.8,608.8 1368.7,608.8 1370.6,608.8 1372.5,608.8 1374.3,608.8 1376.2,608.9 1378.1,608.9 1380.0,608.9 1381.9,608.9 1383.8,608.9"/>
<polyline stroke="#0000ff" points="863.8,605.4 865.7,605.5 867.6,605.5 869.5,605.5 871.4,605.5 873.3,605.6 875.1,605.6 877.0,605.6 878.9,605.6 880.8,605.7 882.7,605.7 884.6,605.7 886.5,605.7 888.4,605.8 890.3,605.8 892.2,605.8 894.1,605.8 895.9,605.8 897.8,605.9 899.7,605.9 901.6,605.9 903.5,605.9 905.4,605.9 907.3,605.9 909.2,605.9 911.1,606.0 913.0,606.0 914.9,606.0 916.7,606.0 918.6,606.0 920.5,606.0 922.4,606.0 924.3,606.1 926.2,606.1 928.1,606.1 930.0,606.1 931.9,606.1 933.8,606.1 935.7,606.1 937.5,606.1 939.4,606.1 941.3,606.1 943.2,606.2 945.1,606.2 947.0,606.2 948.9,606.2 950.8,606.2 952.7,606.2 954.6,606.2 956.5,606.2 958.3,606.2 960.2,606.2 962.1,606.2 964.0,606.1 965.9,606.1 967.8,606.1 969.7,606.0 971.6,605.9 973.5,605.9 975.4,605.8 977.3,605.7 979.1,605.6 981.0,605.5 982.9,605.4 984.8,605.3 986.7,605.1 988.6,604.8 990.5,604.5 992.4,604.1 994.3,603.7 996.2,603.2 998.1,602.6 999.9,601.9 1001.8,601.2 1003.7,600.0 1005.6,598.0 1007.5,595.6 1009.4,592.8 1011.3,589.9 1013.2,587.0 1015.1,584.1 1017.0,581.1 1018.9,578.0 1020.7,574.6 1022.6,570.9 1024.5,567.0 1026.4,562.6 1028.3,557.7 1030.2,552.3 1032.1,546.3 1034.0,539.9 1035.9,533.1 1037.8,525.4 1039.7,516.9 1041.5,507.8 1043.4,498.2 1045.3,487.6 1047.2,476.2 1049.1,464.5 1051.0,452.2 1052.9,439.5 1054.8,426.9 1056.7,414.5 1058.6,402.2 1060.5,389.5 1062.3,376.7 1064.2,363.6 1066.1,349.7 1068.0,334.6 1069.9,318.6 1071.8,301.9 1073.7,283.7 1075.6,266.6 1077.5,252.8 1079.4,240.6 1081.3,228.6 1083.1,215.7 1085.0,203.5 1086.9,192.8 1088.8,183.6 1090.7,176.1 1092.6,170.2 1094.5,166.1 1096.4,164.1 1098.3,163.7 1100.2,165.2 1102.1,168.7 1103.9,173.8 1105.8,180.7 1107.7,189.4 1109.6,199.5 1111.5,211.1 1113.4,224.0 1115.3,237.8 1117.2,252.3 1119.1,267.6 1121.0,284.0 1122.9,300.7 1124.7,316.8 1126.6,332.7 1128.5,347.9 1130.4,362.3 1132.3,376.0 1134.2,389.2 1136.1,402.0 1138.0,414.3 1139.9,426.6 1141.8,439.0 1143.7,451.3 1145.5,463.3 1147.4,474.9 1149.3,486.1 1151.2,496.9 1153.1,507.1 1155.0,516.8 1156.9,525.6 1158.8,533.7 1160.7,541.2 1162.6,547.6 1164.5,553.2 1166.3,558.3 1168.2,563.0 1170.1,567.2 1172.0,571.2 1173.9,575.0 1175.8,578.5 1177.7,581.6 1179.6,584.2 1181.5,586.4 1183.4,588.5 1185.3,590.3 1187.1,592.1 1189.0,593.6 1190.9,594.9 1192.8,596.0 1194.7,596.9 1196.6,597.7 1198.5,598.4 1200.4,599.0 1202.3,599.6 1204.2,600.1 1206.1,600.6 1207.9,601.0 1209.8,601.4 1211.7,601.7 1213.6,602.1 1215.5,602.4 1217.4,602.7 1219.3,603.0 1221.2,603.3 1223.1,603.5 1225.0,603.8 1226.9,604.0 1228.7,604.1 1230.6,604.3 1232.5,604.4 1234.4,604.5 1236.3,604.6 1238.2,604.7 1240.1,604.8 1242.0,604.9 1243.9,605.0 1245.8,605.0 1247.7,605.1 1249.5,605.2 1251.4,605.2 1253.3,605.3 1255.2,605.4 1257.1,605.4 1259.0,605.5 1260.9,605.6 1262.8,605.6 1264.7,605.7 1266.6,605.8 1268.5,605.9 1270.3,605.9 1272.2,606.0 1274.1,606.1 1276.0,606.1 1277.9,606.1 1279.8,606.2 1281.7,606.2 1283.6,606.2 1285.5,606.0 1287.4,605.8 1289.3,605.5 1291.1,605.2 1293.0,605.0 1294.9,604.9 1296.8,605.0 1298.7,605.3 1300.6,605.8 1302.5,606.3 1304.4,606.8 1306.3,607.2 1308.2,607.5 1310.1,607.8 1311.9,608.0 1313.8,608.2 1315.7,608.4 1317.6,608.6 1319.5,608.8 1321.4,609.0 1323.3,609.1 1325.2,609.3 1327.1,609.5 1329.0,609.6 1330.9,609.8 1332.7,610.0 1334.6,610.1 1336.5,610.3 1338.4,610.5 1340.3,610.7 1342.2,610.8 1344.1,611.0 1346.0,611.2 1347.9,611.4 1349.8,611.5 1351.7,611.6 1353.5,611.8 1355.4,611.9 1357.3,611.9 1359.2,612.0 1361.1,612.0 1363.0,612.1 1364.9,612.1 1366.8,612.2 1368.7,612.2 1370.6,612.3 1372.5,612.3 1374.3,612.4 1376.2,612.4 1378.1,612.4 1380.0,612.4 1381.9,612.4 1383.8,612.4"/>
<polyline stroke="#ff00ff" points="863.8,597.0 865.7,597.2 867.6,597.4 869.5,597.6 871.4,597.8 873.3,598.0 875.1,598.2 877.0,598.3 878.9,598.5 880.8,598.6 882.7,598.8 884.6,598.9 886.5,599.0 888.4,599.1 890.3,599.1 892.2,599.2 894.1,599.2 895.9,599.2 897.8,599.2 899.7,599.2 901.6,599.1 903.5,599.1 905.4,599.1 907.3,599.0 909.2,599.0 911.1,598.9 913.0,598.8 914.9,598.8 916.7,598.7 918.6,598.6 920.5,598.5 922.4,598.4 924.3,598.3 926.2,598.3 928.1,598.2 930.0,598.1 931.9,598.0 933.8,597.9 935.7,597.8 937.5,597.7 939.4,597.6 941.3,597.5 943.2,597.4 945.1,597.3 947.0,597.1 948.9,597.0 950.8,596.9 952.7,596.7 954.6,596.5 956.5,596.3 958.3,596.2 960.2,595.9 962.1,595.7 964.0,595.4 965.9,595.1 967.8,594.8 969.7,594.4 971.6,594.1 973.5,593.7 975.4,593.2 977.3,592.8 979.1,592.3 981.0,591.8 982.9,591.3 984.8,590.8 986.7,590.3 988.6,589.7 990.5,589.2 992.4,588.5 994.3,587.9 996.2,587.1 998.1,586.3 999.9,585.3 1001.8,584.3 1003.7,583.2 1005.6,581.9 1007.5,580.4 1009.4,578.6 1011.3,576.6 1013.2,574.0 1015.1,570.7 1017.0,567.2 1018.9,563.8 1020.7,560.7 1022.6,557.6 1024.5,554.4 1026.4,551.0 1028.3,547.2 1030.2,542.8 1032.1,537.5 1034.0,531.7 1035.9,525.6 1037.8,519.4 1039.7,513.0 1041.5,506.3 1043.4,499.3 1045.3,492.2 1047.2,484.9 1049.1,477.1 1051.0,469.1 1052.9,460.8 1054.8,452.6 1056.7,444.5 1058.6,436.4 1060.5,428.3 1062.3,420.3 1064.2,412.4 1066.1,404.8 1068.0,397.6 1069.9,390.1 1071.8,381.6 1073.7,372.8 1075.6,365.1 1077.5,358.2 1079.4,352.3 1081.3,347.3 1083.1,343.5 1085.0,340.7 1086.9,339.3 1088.8,338.8 1090.7,339.4 1092.6,340.5 1094.5,342.5 1096.4,345.1 1098.3,348.4 1100.2,352.4 1102.1,357.0 1103.9,362.1 1105.8,367.9 1107.7,374.0 1109.6,380.6 1111.5,387.8 1113.4,395.8 1115.3,404.4 1117.2,412.8 1119.1,421.2 1121.0,429.5 1122.9,437.8 1124.7,446.0 1126.6,454.1 1128.5,462.2 1130.4,470.2 1132.3,478.1 1134.2,485.7 1136.1,493.0 1138.0,500.3 1139.9,507.4 1141.8,514.2 1143.7,520.6 1145.5,526.5 1147.4,531.9 1149.3,537.0 1151.2,541.6 1153.1,545.8 1155.0,549.6 1156.9,553.2 1158.8,556.5 1160.7,559.7 1162.6,562.6 1164.5,565.3 1166.3,567.9 1168.2,570.4 1170.1,572.7 1172.0,574.9 1173.9,576.8 1175.8,578.6 1177.7,580.1 1179.6,581.5 1181.5,582.9 1183.4,584.1 1185.3,585.2 1187.1,586.3 1189.0,587.2 1190.9,588.1 1192.8,589.0 1194.7,589.8 1196.6,590.6 1198.5,591.4 1200.4,592.0 1202.3,592.6 1204.2,593.2 1206.1,593.6 1207.9,594.0 1209.8,594.3 1211.7,594.7 1213.6,595.0 1215.5,595.3 1217.4,595.6 1219.3,595.9 1221.2,596.1 1223.1,596.4 1225.0,596.6 1226.9,596.8 1228.7,597.0 1230.6,597.2 1232.5,597.4 1234.4,597.6 1236.3,597.8 1238.2,598.0 1240.1,598.2 1242.0,598.4 1243.9,598.6 1245.8,598.7 1247.7,598.9 1249.5,599.0 1251.4,599.1 1253.3,599.3 1255.2,599.4 1257.1,599.4 1259.0,599.5 1260.9,599.5 1262.8,599.6 1264.7,599.7 1266.6,599.7 1268.5,599.8 1270.3,599.8 1272.2,599.8 1274.1,599.9 1276.0,599.9 1277.9,599.9 1279.8,599.9 1281.7,599.9 1283.6,599.9 1285.5,599.8 1287.4,599.7 1289.3,599.5 1291.1,599.2 1293.0,598.6 1294.9,597.5 1296.8,597.2 1298.7,597.4 1300.6,597.8 1302.5,598.3 1304.4,598.8 1306.3,599.2 1308.2,599.6 1310.1,600.0 1311.9,600.5 1313.8,600.9 1315.7,601.3 1317.6,601.8 1319.5,602.2 1321.4,602.6 1323.3,603.1 1325.2,603.5 1327.1,603.9 1329.0,604.3 1330.9,604.6 1332.7,605.0 1334.6,605.3 1336.5,605.6 1338.4,605.9 1340.3,606.3 1342.2,606.6 1344.1,606.9 1346.0,607.1 1347.9,607.4 1349.8,607.7 1351.7,607.9 1353.5,608.2 1355.4,608.4 1357.3,608.7 1359.2,608.9 1361.1,609.1 1363.0,609.3 1364.9,609.5 1366.8,609.7 1368.7,609.9 1370.6,610.1 1372.5,610.3 1374.3,610.5 1376.2,610.6 1378.1,610.8 1380.0,610.9 1381.9,611.1 1383.8,611.2"/>
</g>
<g stroke="#000" stroke-width="2.4" fill="none" stroke-linecap="butt">
<rect x="863.8" y="54.5" width="519.4" height="571.5"/>
<path d="M863.8 626.0v8.2M911.0 626.0v4.8M958.2 626.0v8.2M1005.5 626.0v4.8M1052.7 626.0v8.2M1099.9 626.0v4.8M1147.1 626.0v8.2M1194.3 626.0v4.8M1241.5 626.0v8.2M1288.8 626.0v4.8M1336.0 626.0v8.2M1383.2 626.0v4.8M863.8 611.7h-8.2M863.8 542.1h-4.8M863.8 472.4h-8.2M863.8 402.8h-4.8M863.8 333.1h-8.2M863.8 263.5h-4.8M863.8 193.8h-8.2M863.8 124.2h-4.8M863.8 54.5h-8.2"/>
</g>
<g class="t">
<text x="862.4" y="675.1" text-anchor="middle">-0.4</text>
<text x="956.8" y="675.1" text-anchor="middle">-0.2</text>
<text x="1051.9" y="675.1" text-anchor="middle">0.0</text>
<text x="1146.3" y="675.1" text-anchor="middle">0.2</text>
<text x="1240.7" y="675.1" text-anchor="middle">0.4</text>
<text x="1335.2" y="675.1" text-anchor="middle">0.6</text>
<text x="849.8" y="625.7" text-anchor="end">0</text>
<text x="849.8" y="486.4" text-anchor="end">100</text>
<text x="849.8" y="347.1" text-anchor="end">200</text>
<text x="849.8" y="207.8" text-anchor="end">300</text>
<text x="849.8" y="68.5" text-anchor="end">400</text>
</g>
<text class="a" x="1122.4" y="727.2" text-anchor="middle">Potential / V vs. Ag/AgCl</text>
<text class="a" transform="translate(769.5 334.1) rotate(-90)" text-anchor="middle">Current / <tspan class="mu">µ</tspan>A</text>
<text class="p" x="1370.7" y="133.8" text-anchor="end">b<tspan dx="2.4">)</tspan></text>
</g>
<g>
<clipPath id="c20"><rect x="1553.8" y="54.5" width="522.1" height="571.5"/></clipPath>
<g clip-path="url(#c20)" fill="none" stroke-linejoin="round" stroke-linecap="butt" stroke-width="8.2">
<polyline stroke="#000000" points="1553.8,605.9 1555.7,605.9 1557.6,605.9 1559.5,605.9 1561.4,605.9 1563.3,605.9 1565.1,605.9 1567.0,605.9 1568.9,605.9 1570.8,605.8 1572.7,605.8 1574.6,605.8 1576.5,605.8 1578.4,605.7 1580.3,605.7 1582.2,605.7 1584.1,605.7 1585.9,605.6 1587.8,605.6 1589.7,605.6 1591.6,605.5 1593.5,605.5 1595.4,605.5 1597.3,605.5 1599.2,605.4 1601.1,605.4 1603.0,605.3 1604.9,605.3 1606.7,605.3 1608.6,605.2 1610.5,605.2 1612.4,605.2 1614.3,605.1 1616.2,605.1 1618.1,605.0 1620.0,605.0 1621.9,605.0 1623.8,604.9 1625.7,604.9 1627.5,604.8 1629.4,604.8 1631.3,604.8 1633.2,604.7 1635.1,604.7 1637.0,604.6 1638.9,604.6 1640.8,604.5 1642.7,604.5 1644.6,604.4 1646.5,604.3 1648.3,604.3 1650.2,604.2 1652.1,604.1 1654.0,604.0 1655.9,603.9 1657.8,603.8 1659.7,603.7 1661.6,603.6 1663.5,603.4 1665.4,603.2 1667.3,602.8 1669.1,602.5 1671.0,602.1 1672.9,601.7 1674.8,601.3 1676.7,600.9 1678.6,600.6 1680.5,600.2 1682.4,599.9 1684.3,599.5 1686.2,599.2 1688.1,598.9 1689.9,598.6 1691.8,598.3 1693.7,598.0 1695.6,597.6 1697.5,597.3 1699.4,596.9 1701.3,596.5 1703.2,596.1 1705.1,595.6 1707.0,595.1 1708.9,594.6 1710.7,593.9 1712.6,593.2 1714.5,592.4 1716.4,591.4 1718.3,590.4 1720.2,589.2 1722.1,588.0 1724.0,586.8 1725.9,585.4 1727.8,584.0 1729.7,582.5 1731.5,580.8 1733.4,578.9 1735.3,577.0 1737.2,574.8 1739.1,572.5 1741.0,570.1 1742.9,567.5 1744.8,564.7 1746.7,561.6 1748.6,558.1 1750.5,554.1 1752.3,549.7 1754.2,545.0 1756.1,539.4 1758.0,533.0 1759.9,526.4 1761.8,520.0 1763.7,513.4 1765.6,507.1 1767.5,501.1 1769.4,495.5 1771.3,489.9 1773.1,484.5 1775.0,479.2 1776.9,473.9 1778.8,468.8 1780.7,463.7 1782.6,458.7 1784.5,454.0 1786.4,449.7 1788.3,445.8 1790.2,442.2 1792.1,439.2 1793.9,436.6 1795.8,434.5 1797.7,432.8 1799.6,431.9 1801.5,431.3 1803.4,431.4 1805.3,432.0 1807.2,433.0 1809.1,434.1 1811.0,435.2 1812.9,436.5 1814.7,437.9 1816.6,439.5 1818.5,441.2 1820.4,443.1 1822.3,445.0 1824.2,447.4 1826.1,450.8 1828.0,456.2 1829.9,462.8 1831.8,469.1 1833.7,475.5 1835.5,482.0 1837.4,488.3 1839.3,494.6 1841.2,500.8 1843.1,506.7 1845.0,512.4 1846.9,517.8 1848.8,523.0 1850.7,527.9 1852.6,532.6 1854.5,537.0 1856.3,541.2 1858.2,545.0 1860.1,548.5 1862.0,551.8 1863.9,554.9 1865.8,557.8 1867.7,560.5 1869.6,563.1 1871.5,565.4 1873.4,567.6 1875.3,569.6 1877.1,571.5 1879.0,573.3 1880.9,575.0 1882.8,576.7 1884.7,578.4 1886.6,579.9 1888.5,581.5 1890.4,582.9 1892.3,584.4 1894.2,585.7 1896.1,587.0 1897.9,588.4 1899.8,589.7 1901.7,590.9 1903.6,592.2 1905.5,593.4 1907.4,594.5 1909.3,595.6 1911.2,596.6 1913.1,597.5 1915.0,598.3 1916.9,599.1 1918.7,599.7 1920.6,600.4 1922.5,601.0 1924.4,601.6 1926.3,602.1 1928.2,602.6 1930.1,603.1 1932.0,603.6 1933.9,604.0 1935.8,604.5 1937.7,605.0 1939.5,605.4 1941.4,605.9 1943.3,606.3 1945.2,606.6 1947.1,606.9 1949.0,607.1 1950.9,607.3 1952.8,607.4 1954.7,607.6 1956.6,607.8 1958.5,607.9 1960.3,608.1 1962.2,608.2 1964.1,608.3 1966.0,608.5 1967.9,608.6 1969.8,608.7 1971.7,608.8 1973.6,608.9 1975.5,609.0 1977.4,609.1 1979.3,609.2 1981.1,609.3 1983.0,609.4 1984.9,609.5 1986.8,609.5 1988.7,609.6 1990.6,609.7 1992.5,609.8 1994.4,609.8 1996.3,609.9 1998.2,610.0 2000.1,610.0 2001.9,610.1 2003.8,610.1 2005.7,610.2 2007.6,610.2 2009.5,610.3 2011.4,610.3 2013.3,610.4 2015.2,610.4 2017.1,610.5 2019.0,610.5 2020.9,610.6 2022.7,610.6 2024.6,610.7 2026.5,610.7 2028.4,610.7 2030.3,610.8 2032.2,610.8 2034.1,610.9 2036.0,610.9 2037.9,610.9 2039.8,611.0 2041.7,611.0 2043.5,611.1 2045.4,611.1 2047.3,611.2 2049.2,611.2 2051.1,611.3 2053.0,611.3 2054.9,611.4 2056.8,611.4 2058.7,611.5 2060.6,611.5 2062.5,611.6 2064.3,611.6 2066.2,611.7 2068.1,611.8 2070.0,611.8 2071.9,611.9 2073.8,611.9"/>
<polyline stroke="#ff0000" points="1553.8,606.6 1555.0,606.9 1556.3,608.0 1557.5,608.2 1558.8,610.7 1560.0,609.0 1561.2,608.4 1562.5,609.5 1563.7,608.6 1565.0,610.3 1566.2,606.0 1567.5,604.9 1568.7,609.5 1569.9,608.1 1571.2,609.3 1572.4,606.6 1573.7,608.1 1574.9,608.7 1576.1,609.3 1577.4,608.7 1578.6,610.7 1579.9,607.7 1581.1,610.2 1582.3,607.9 1583.6,608.7 1584.8,606.9 1586.1,609.0 1587.3,607.1 1588.5,610.6 1589.8,607.8 1591.0,609.3 1592.3,608.6 1593.5,608.8 1594.8,607.2 1596.0,612.6 1597.2,608.4 1598.5,611.6 1599.7,606.7 1601.0,612.5 1602.2,610.7 1603.4,612.0 1604.7,606.0 1605.9,611.2 1607.2,608.7 1608.4,609.9 1609.6,612.2 1610.9,609.5 1612.1,607.7 1613.4,609.2 1614.6,607.1 1615.9,609.5 1617.1,608.8 1618.3,609.5 1619.6,608.2 1620.8,605.3 1622.1,608.1 1623.3,608.4 1624.5,609.9 1625.8,610.1 1627.0,606.1 1628.3,610.7 1629.5,610.3 1630.7,608.8 1632.0,609.4 1633.2,605.1 1634.5,612.9 1635.7,607.9 1637.0,607.3 1638.2,610.6 1639.4,609.7 1640.7,607.7 1641.9,605.6 1643.2,610.2 1644.4,611.3 1645.6,606.7 1646.9,605.7 1648.1,609.0 1649.4,612.4 1650.6,605.8 1651.8,608.8 1653.1,606.3 1654.3,608.5 1655.6,609.0 1656.8,609.2 1658.0,605.7 1659.3,605.7 1660.5,612.2 1661.8,610.0 1663.0,605.0 1664.3,608.9 1665.5,610.7 1666.7,608.2 1668.0,608.3 1669.2,608.2 1670.5,608.5 1671.7,607.7 1672.9,607.3 1674.2,605.1 1675.4,606.4 1676.7,604.6 1677.9,603.5 1679.1,600.1 1680.4,600.8 1681.6,600.7 1682.9,598.4 1684.1,597.5 1685.4,595.0 1686.6,594.8 1687.8,591.1 1689.1,590.6 1690.3,591.7 1691.6,590.8 1692.8,586.9 1694.0,585.8 1695.3,585.0 1696.5,585.5 1697.8,583.7 1699.0,576.9 1700.2,572.9 1701.5,569.4 1702.7,569.5 1704.0,561.5 1705.2,560.3 1706.4,554.3 1707.7,549.5 1708.9,545.7 1710.2,540.3 1711.4,535.2 1712.7,528.9 1713.9,523.5 1715.1,517.1 1716.4,511.4 1717.6,504.7 1718.9,497.6 1720.1,490.1 1721.3,481.3 1722.6,472.6 1723.8,462.7 1725.1,452.0 1726.3,441.0 1727.5,429.3 1728.8,418.7 1730.0,408.7 1731.3,397.7 1732.5,385.5 1733.8,372.7 1735.0,357.9 1736.2,343.6 1737.5,327.3 1738.7,311.7 1740.0,296.6 1741.2,279.9 1742.4,265.1 1743.7,252.9 1744.9,241.2 1746.2,229.8 1747.4,217.0 1748.6,205.3 1749.9,192.6 1751.1,179.9 1752.4,169.0 1753.6,157.5 1754.9,147.2 1756.1,137.7 1757.3,128.1 1758.6,119.4 1759.8,112.0 1761.1,104.3 1762.3,97.6 1763.5,92.0 1764.8,88.2 1766.0,84.0 1767.3,81.1 1768.5,77.9 1769.7,76.8 1771.0,76.2 1772.2,77.4 1773.5,78.8 1774.7,81.0 1775.9,84.5 1777.2,89.5 1778.4,94.6 1779.7,100.9 1780.9,108.5 1782.2,117.2 1783.4,126.5 1784.6,135.6 1785.9,146.0 1787.1,157.5 1788.4,169.8 1789.6,182.9 1790.8,196.4 1792.1,211.9 1793.3,227.2 1794.6,242.7 1795.8,257.7 1797.0,272.1 1798.3,286.6 1799.5,301.2 1800.8,316.7 1802.0,333.1 1803.3,350.8 1804.5,368.4 1805.7,386.7 1807.0,404.0 1808.2,420.9 1809.5,434.9 1810.7,446.3 1811.9,457.2 1813.2,466.8 1814.4,475.7 1815.7,484.2 1816.9,492.0 1818.1,499.2 1819.4,505.9 1820.6,512.5 1821.9,518.7 1823.1,524.9 1824.3,531.0 1825.6,536.4 1826.8,541.9 1828.1,546.1 1829.3,554.7 1830.6,555.5 1831.8,554.8 1833.0,563.6 1834.3,568.9 1835.5,570.8 1836.8,572.3 1838.0,578.6 1839.2,580.5 1840.5,584.3 1841.7,587.7 1843.0,583.6 1844.2,591.3 1845.4,594.2 1846.7,595.6 1847.9,595.4 1849.2,596.5 1850.4,597.0 1851.7,599.2 1852.9,603.0 1854.1,600.3 1855.4,602.4 1856.6,602.9 1857.9,605.6 1859.1,604.4 1860.3,605.1 1861.6,604.3 1862.8,607.3 1864.1,604.9 1865.3,605.1 1866.5,607.6 1867.8,607.0 1869.0,607.6 1870.3,604.5 1871.5,610.7 1872.7,606.8 1874.0,609.1 1875.2,606.9 1876.5,604.5 1877.7,607.1 1879.0,605.6 1880.2,607.3 1881.4,602.1 1882.7,603.9 1883.9,603.4 1885.2,607.7 1886.4,607.1 1887.6,603.1 1888.9,605.3 1890.1,605.3 1891.4,604.1 1892.6,606.9 1893.8,603.1 1895.1,604.5 1896.3,603.6 1897.6,605.7 1898.8,603.5 1900.1,605.7 1901.3,602.7 1902.5,602.4 1903.8,602.8 1905.0,603.6 1906.3,603.4 1907.5,609.5 1908.7,603.1 1910.0,605.1 1911.2,604.5 1912.5,605.2 1913.7,607.3 1914.9,605.8 1916.2,603.7 1917.4,602.3 1918.7,606.1 1919.9,606.6 1921.2,602.4 1922.4,606.7 1923.6,601.4 1924.9,605.1 1926.1,606.9 1927.4,603.6 1928.6,602.3 1929.8,608.1 1931.1,602.7 1932.3,606.1 1933.6,602.9 1934.8,606.4 1936.0,608.6 1937.3,604.9 1938.5,604.2 1939.8,602.1 1941.0,602.8 1942.2,604.7 1943.5,606.5 1944.7,607.0 1946.0,606.7 1947.2,607.7 1948.5,606.7 1949.7,610.9 1950.9,606.0 1952.2,606.4 1953.4,601.7 1954.7,605.0 1955.9,607.3 1957.1,605.5 1958.4,608.7 1959.6,607.7 1960.9,610.0 1962.1,604.1 1963.3,605.6 1964.6,608.9 1965.8,606.9 1967.1,605.1 1968.3,606.0 1969.6,606.2 1970.8,608.5 1972.0,608.1 1973.3,606.8 1974.5,605.4 1975.8,608.6 1977.0,609.2 1978.2,605.1 1979.5,608.9 1980.7,605.3 1982.0,606.8 1983.2,605.7 1984.4,604.1 1985.7,606.1 1986.9,605.9 1988.2,609.0 1989.4,608.6 1990.6,606.2 1991.9,604.6 1993.1,604.9 1994.4,603.2 1995.6,606.9 1996.9,607.1 1998.1,605.6 1999.3,607.4 2000.6,607.5 2001.8,609.3 2003.1,605.6 2004.3,609.4 2005.5,606.5 2006.8,610.0 2008.0,605.4 2009.3,609.3 2010.5,605.9 2011.7,610.3 2013.0,608.2 2014.2,605.2 2015.5,608.8 2016.7,607.2 2018.0,608.2 2019.2,611.5 2020.4,606.8 2021.7,606.5 2022.9,609.3 2024.2,606.3 2025.4,608.7 2026.6,609.1 2027.9,607.2 2029.1,608.5 2030.4,603.1 2031.6,610.0 2032.8,605.9 2034.1,605.4 2035.3,610.7 2036.6,610.3 2037.8,606.1 2039.1,608.0 2040.3,606.4 2041.5,605.0 2042.8,607.7 2044.0,608.9 2045.3,611.9 2046.5,606.6 2047.7,608.6 2049.0,606.3 2050.2,606.4 2051.5,609.3 2052.7,603.6 2053.9,604.6 2055.2,604.9 2056.4,608.5 2057.7,606.9 2058.9,607.0 2060.1,606.6 2061.4,607.7 2062.6,604.7 2063.9,604.9 2065.1,604.5 2066.4,605.9 2067.6,602.4 2068.8,604.2 2070.1,609.3 2071.3,605.3 2072.6,604.1 2073.8,602.0"/>
<polyline stroke="#0000ff" points="1553.8,579.9 1555.7,580.1 1557.6,580.2 1559.5,580.4 1561.4,580.6 1563.3,580.7 1565.1,580.9 1567.0,581.0 1568.9,581.2 1570.8,581.3 1572.7,581.5 1574.6,581.6 1576.5,581.7 1578.4,581.9 1580.3,582.0 1582.2,582.1 1584.1,582.2 1585.9,582.3 1587.8,582.5 1589.7,582.6 1591.6,582.7 1593.5,582.8 1595.4,582.8 1597.3,582.9 1599.2,583.0 1601.1,583.1 1603.0,583.2 1604.9,583.3 1606.7,583.3 1608.6,583.4 1610.5,583.5 1612.4,583.6 1614.3,583.6 1616.2,583.7 1618.1,583.8 1620.0,583.9 1621.9,583.9 1623.8,584.0 1625.7,584.1 1627.5,584.1 1629.4,584.2 1631.3,584.2 1633.2,584.3 1635.1,584.3 1637.0,584.4 1638.9,584.4 1640.8,584.4 1642.7,584.4 1644.6,584.4 1646.5,584.5 1648.3,584.5 1650.2,584.4 1652.1,584.4 1654.0,584.4 1655.9,584.4 1657.8,584.3 1659.7,584.2 1661.6,584.2 1663.5,584.1 1665.4,584.0 1667.3,583.8 1669.1,583.7 1671.0,583.6 1672.9,583.4 1674.8,583.2 1676.7,583.0 1678.6,582.8 1680.5,582.6 1682.4,582.0 1684.3,581.1 1686.2,579.8 1688.1,578.3 1689.9,576.5 1691.8,574.7 1693.7,572.1 1695.6,568.7 1697.5,565.1 1699.4,561.7 1701.3,558.2 1703.2,554.5 1705.1,550.6 1707.0,546.4 1708.9,541.7 1710.7,536.6 1712.6,531.0 1714.5,524.8 1716.4,518.0 1718.3,510.5 1720.2,502.3 1722.1,493.3 1724.0,482.9 1725.9,471.5 1727.8,459.5 1729.7,446.7 1731.5,433.4 1733.4,420.0 1735.3,406.3 1737.2,392.7 1739.1,379.8 1741.0,367.3 1742.9,355.2 1744.8,343.6 1746.7,332.7 1748.6,321.7 1750.5,310.7 1752.3,298.7 1754.2,285.8 1756.1,274.3 1758.0,263.7 1759.9,254.2 1761.8,245.8 1763.7,238.8 1765.6,233.1 1767.5,229.0 1769.4,226.5 1771.3,225.3 1773.1,225.9 1775.0,227.7 1776.9,231.2 1778.8,236.1 1780.7,242.2 1782.6,249.8 1784.5,258.5 1786.4,268.4 1788.3,279.4 1790.2,290.4 1792.1,301.2 1793.9,312.8 1795.8,325.1 1797.7,338.8 1799.6,352.1 1801.5,364.4 1803.4,376.2 1805.3,387.4 1807.2,398.1 1809.1,408.4 1811.0,418.3 1812.9,427.8 1814.7,436.9 1816.6,445.7 1818.5,454.2 1820.4,462.4 1822.3,470.6 1824.2,478.6 1826.1,486.4 1828.0,494.1 1829.9,501.4 1831.8,508.5 1833.7,515.3 1835.5,521.7 1837.4,527.6 1839.3,533.3 1841.2,538.6 1843.1,543.4 1845.0,547.4 1846.9,551.1 1848.8,554.7 1850.7,557.9 1852.6,560.8 1854.5,563.3 1856.3,565.2 1858.2,566.7 1860.1,568.1 1862.0,569.4 1863.9,570.5 1865.8,571.6 1867.7,572.6 1869.6,573.5 1871.5,574.3 1873.4,575.2 1875.3,576.0 1877.1,576.8 1879.0,577.6 1880.9,578.3 1882.8,579.1 1884.7,579.8 1886.6,580.4 1888.5,581.1 1890.4,581.7 1892.3,582.2 1894.2,582.7 1896.1,583.2 1897.9,583.7 1899.8,584.1 1901.7,584.6 1903.6,585.0 1905.5,585.4 1907.4,585.8 1909.3,586.1 1911.2,586.4 1913.1,586.7 1915.0,587.0 1916.9,587.2 1918.7,587.5 1920.6,587.7 1922.5,587.9 1924.4,588.1 1926.3,588.3 1928.2,588.5 1930.1,588.6 1932.0,588.8 1933.9,588.9 1935.8,589.0 1937.7,589.1 1939.5,589.1 1941.4,589.2 1943.3,589.3 1945.2,589.3 1947.1,589.4 1949.0,589.6 1950.9,589.7 1952.8,589.9 1954.7,589.9 1956.6,589.8 1958.5,589.6 1960.3,589.4 1962.2,589.3 1964.1,589.1 1966.0,589.0 1967.9,588.8 1969.8,588.5 1971.7,588.2 1973.6,587.5 1975.5,585.8 1977.4,583.3 1979.3,578.8 1981.1,573.0 1983.0,567.9 1984.9,564.1 1986.8,563.9 1988.7,564.8 1990.6,565.9 1992.5,566.8 1994.4,567.7 1996.3,568.6 1998.2,569.5 2000.1,570.5 2001.9,571.4 2003.8,572.4 2005.7,573.4 2007.6,574.4 2009.5,575.4 2011.4,576.4 2013.3,577.4 2015.2,578.4 2017.1,579.4 2019.0,580.4 2020.9,581.3 2022.7,582.3 2024.6,583.3 2026.5,584.2 2028.4,585.2 2030.3,586.2 2032.2,587.1 2034.1,588.1 2036.0,589.1 2037.9,590.0 2039.8,591.0 2041.7,591.9 2043.5,592.9 2045.4,593.9 2047.3,594.8 2049.2,595.8 2051.1,596.8 2053.0,597.8 2054.9,598.7 2056.8,599.7 2058.7,600.7 2060.6,601.6 2062.5,602.6 2064.3,603.6 2066.2,604.6 2068.1,605.5 2070.0,606.5 2071.9,607.5 2073.8,608.5"/>
<polyline stroke="#ff00ff" points="1553.8,597.4 1555.7,597.4 1557.6,597.4 1559.5,597.4 1561.4,597.4 1563.3,597.4 1565.1,597.3 1567.0,597.3 1568.9,597.3 1570.8,597.2 1572.7,597.2 1574.6,597.2 1576.5,597.1 1578.4,597.1 1580.3,597.1 1582.2,597.0 1584.1,597.0 1585.9,596.9 1587.8,596.9 1589.7,596.8 1591.6,596.8 1593.5,596.7 1595.4,596.7 1597.3,596.6 1599.2,596.5 1601.1,596.4 1603.0,596.4 1604.9,596.3 1606.7,596.2 1608.6,596.1 1610.5,596.0 1612.4,595.9 1614.3,595.8 1616.2,595.8 1618.1,595.7 1620.0,595.6 1621.9,595.5 1623.8,595.4 1625.7,595.3 1627.5,595.2 1629.4,595.2 1631.3,595.1 1633.2,595.0 1635.1,594.9 1637.0,594.9 1638.9,594.8 1640.8,594.7 1642.7,594.6 1644.6,594.5 1646.5,594.4 1648.3,594.3 1650.2,594.2 1652.1,594.1 1654.0,593.9 1655.9,593.8 1657.8,593.7 1659.7,593.5 1661.6,593.3 1663.5,593.1 1665.4,592.8 1667.3,592.5 1669.1,592.1 1671.0,591.7 1672.9,591.2 1674.8,590.8 1676.7,590.3 1678.6,589.9 1680.5,589.4 1682.4,588.9 1684.3,588.4 1686.2,587.8 1688.1,587.2 1689.9,586.6 1691.8,585.9 1693.7,585.2 1695.6,584.5 1697.5,583.7 1699.4,582.8 1701.3,582.0 1703.2,581.0 1705.1,580.0 1707.0,578.9 1708.9,577.7 1710.7,576.4 1712.6,575.0 1714.5,573.4 1716.4,571.5 1718.3,569.4 1720.2,567.0 1722.1,564.4 1724.0,561.3 1725.9,557.8 1727.8,554.0 1729.7,549.8 1731.5,545.5 1733.4,540.9 1735.3,535.9 1737.2,530.5 1739.1,524.8 1741.0,518.6 1742.9,512.0 1744.8,505.3 1746.7,498.5 1748.6,491.7 1750.5,485.4 1752.3,479.5 1754.2,474.0 1756.1,468.7 1758.0,463.7 1759.9,459.2 1761.8,455.0 1763.7,451.3 1765.6,448.1 1767.5,445.4 1769.4,443.3 1771.3,441.8 1773.1,441.0 1775.0,440.7 1776.9,440.9 1778.8,441.5 1780.7,442.6 1782.6,444.1 1784.5,446.0 1786.4,448.2 1788.3,450.8 1790.2,453.8 1792.1,457.0 1793.9,460.5 1795.8,464.3 1797.7,468.8 1799.6,474.1 1801.5,480.0 1803.4,485.8 1805.3,491.2 1807.2,496.6 1809.1,501.9 1811.0,507.3 1812.9,512.8 1814.7,518.3 1816.6,523.7 1818.5,529.1 1820.4,534.5 1822.3,539.7 1824.2,544.4 1826.1,548.5 1828.0,552.4 1829.9,556.0 1831.8,559.3 1833.7,562.3 1835.5,564.9 1837.4,567.3 1839.3,569.5 1841.2,571.6 1843.1,573.5 1845.0,575.3 1846.9,577.0 1848.8,578.7 1850.7,580.3 1852.6,581.8 1854.5,583.4 1856.3,584.7 1858.2,586.0 1860.1,587.0 1862.0,587.8 1863.9,588.6 1865.8,589.2 1867.7,589.9 1869.6,590.5 1871.5,591.0 1873.4,591.5 1875.3,591.9 1877.1,592.4 1879.0,592.8 1880.9,593.2 1882.8,593.6 1884.7,594.0 1886.6,594.3 1888.5,594.6 1890.4,594.9 1892.3,595.2 1894.2,595.4 1896.1,595.7 1897.9,595.9 1899.8,596.1 1901.7,596.3 1903.6,596.4 1905.5,596.6 1907.4,596.8 1909.3,596.9 1911.2,597.1 1913.1,597.2 1915.0,597.3 1916.9,597.5 1918.7,597.6 1920.6,597.8 1922.5,597.9 1924.4,598.1 1926.3,598.3 1928.2,598.5 1930.1,598.6 1932.0,598.8 1933.9,598.9 1935.8,599.0 1937.7,599.1 1939.5,599.1 1941.4,599.2 1943.3,599.3 1945.2,599.4 1947.1,599.4 1949.0,599.5 1950.9,599.6 1952.8,599.6 1954.7,599.7 1956.6,599.7 1958.5,599.8 1960.3,599.8 1962.2,599.8 1964.1,599.9 1966.0,599.9 1967.9,599.9 1969.8,599.9 1971.7,599.9 1973.6,599.9 1975.5,599.9 1977.4,599.9 1979.3,599.9 1981.1,599.9 1983.0,599.9 1984.9,599.8 1986.8,599.8 1988.7,599.8 1990.6,599.7 1992.5,599.6 1994.4,599.6 1996.3,599.5 1998.2,599.4 2000.1,598.7 2001.9,597.7 2003.8,597.0 2005.7,597.1 2007.6,597.7 2009.5,598.7 2011.4,599.6 2013.3,600.1 2015.2,600.5 2017.1,600.9 2019.0,601.3 2020.9,601.7 2022.7,602.0 2024.6,602.3 2026.5,602.6 2028.4,602.9 2030.3,603.1 2032.2,603.4 2034.1,603.6 2036.0,603.9 2037.9,604.1 2039.8,604.4 2041.7,604.6 2043.5,604.9 2045.4,605.1 2047.3,605.4 2049.2,605.7 2051.1,606.0 2053.0,606.3 2054.9,606.6 2056.8,606.8 2058.7,607.1 2060.6,607.4 2062.5,607.7 2064.3,608.0 2066.2,608.3 2068.1,608.5 2070.0,608.8 2071.9,609.1 2073.8,609.4"/>
</g>
<g stroke="#000" stroke-width="2.4" fill="none" stroke-linecap="butt">
<rect x="1553.8" y="54.5" width="520.8" height="571.5"/>
<path d="M1553.8 626.0v8.2M1601.1 626.0v4.8M1648.5 626.0v8.2M1695.8 626.0v4.8M1743.2 626.0v8.2M1790.5 626.0v4.8M1837.9 626.0v8.2M1885.2 626.0v4.8M1932.6 626.0v8.2M1979.9 626.0v4.8M2027.3 626.0v8.2M2074.6 626.0v4.8M1553.8 611.7h-8.2M1553.8 542.1h-4.8M1553.8 472.4h-8.2M1553.8 402.8h-4.8M1553.8 333.1h-8.2M1553.8 263.5h-4.8M1553.8 193.8h-8.2M1553.8 124.2h-4.8M1553.8 54.5h-8.2"/>
</g>
<g class="t">
<text x="1552.5" y="675.1" text-anchor="middle">-0.4</text>
<text x="1647.2" y="675.1" text-anchor="middle">-0.2</text>
<text x="1742.5" y="675.1" text-anchor="middle">0.0</text>
<text x="1837.2" y="675.1" text-anchor="middle">0.2</text>
<text x="1931.9" y="675.1" text-anchor="middle">0.4</text>
<text x="2026.6" y="675.1" text-anchor="middle">0.6</text>
<text x="1539.9" y="625.7" text-anchor="end">0</text>
<text x="1539.9" y="486.4" text-anchor="end">100</text>
<text x="1539.9" y="347.1" text-anchor="end">200</text>
<text x="1539.9" y="207.8" text-anchor="end">300</text>
<text x="1539.9" y="68.5" text-anchor="end">400</text>
</g>
<text class="a" x="1812.7" y="727.2" text-anchor="middle">Potential / V vs. Ag/AgCl</text>
<text class="a" transform="translate(1459.8 334.1) rotate(-90)" text-anchor="middle">Current / <tspan class="mu">µ</tspan>A</text>
<text class="p" x="2061.2" y="133.8" text-anchor="end">c<tspan dx="2.2">)</tspan></text>
</g>
<g>
<clipPath id="c01"><rect x="166.0" y="791.4" width="521.1" height="571.5"/></clipPath>
<g clip-path="url(#c01)" fill="none" stroke-linejoin="round" stroke-linecap="butt" stroke-width="8.2">
<polyline stroke="#000000" points="166.0,1343.9 167.9,1343.9 169.8,1343.9 171.7,1343.9 173.6,1343.9 175.5,1343.9 177.3,1343.9 179.2,1343.9 181.1,1343.9 183.0,1343.9 184.9,1343.9 186.8,1343.8 188.7,1343.8 190.6,1343.8 192.5,1343.8 194.4,1343.8 196.3,1343.8 198.1,1343.7 200.0,1343.7 201.9,1343.7 203.8,1343.7 205.7,1343.6 207.6,1343.6 209.5,1343.6 211.4,1343.6 213.3,1343.5 215.2,1343.5 217.1,1343.5 218.9,1343.5 220.8,1343.4 222.7,1343.4 224.6,1343.4 226.5,1343.3 228.4,1343.3 230.3,1343.3 232.2,1343.2 234.1,1343.2 236.0,1343.2 237.9,1343.1 239.7,1343.1 241.6,1343.1 243.5,1343.0 245.4,1343.0 247.3,1342.9 249.2,1342.9 251.1,1342.8 253.0,1342.8 254.9,1342.7 256.8,1342.7 258.7,1342.6 260.5,1342.5 262.4,1342.4 264.3,1342.4 266.2,1342.3 268.1,1342.2 270.0,1342.1 271.9,1342.0 273.8,1341.9 275.7,1341.7 277.6,1341.5 279.5,1341.3 281.3,1341.1 283.2,1340.8 285.1,1340.5 287.0,1340.2 288.9,1339.9 290.8,1339.5 292.7,1339.1 294.6,1338.6 296.5,1338.2 298.4,1337.7 300.3,1337.2 302.1,1336.4 304.0,1335.5 305.9,1334.5 307.8,1333.3 309.7,1332.0 311.6,1330.7 313.5,1329.5 315.4,1328.2 317.3,1326.8 319.2,1325.4 321.1,1324.0 322.9,1322.4 324.8,1320.8 326.7,1319.1 328.6,1317.3 330.5,1315.3 332.4,1313.2 334.3,1311.0 336.2,1308.6 338.1,1306.1 340.0,1303.4 341.9,1300.6 343.7,1297.6 345.6,1294.4 347.5,1291.0 349.4,1287.4 351.3,1283.5 353.2,1279.3 355.1,1274.7 357.0,1269.6 358.9,1264.2 360.8,1258.4 362.7,1251.9 364.5,1245.0 366.4,1237.7 368.3,1229.8 370.2,1222.0 372.1,1214.4 374.0,1206.8 375.9,1199.3 377.8,1191.8 379.7,1184.6 381.6,1177.2 383.5,1170.0 385.3,1163.8 387.2,1158.4 389.1,1153.6 391.0,1149.1 392.9,1145.0 394.8,1141.4 396.7,1138.4 398.6,1136.1 400.5,1134.4 402.4,1133.5 404.3,1133.2 406.1,1134.1 408.0,1135.9 409.9,1138.0 411.8,1140.0 413.7,1141.3 415.6,1142.4 417.5,1143.4 419.4,1144.6 421.3,1146.4 423.2,1150.2 425.1,1156.2 426.9,1163.0 428.8,1170.3 430.7,1178.8 432.6,1187.4 434.5,1196.1 436.4,1204.9 438.3,1213.3 440.2,1222.0 442.1,1231.5 444.0,1241.9 445.9,1254.2 447.7,1266.3 449.6,1277.3 451.5,1286.0 453.4,1293.4 455.3,1299.9 457.2,1305.3 459.1,1310.0 461.0,1314.1 462.9,1317.8 464.8,1321.3 466.7,1324.6 468.5,1327.8 470.4,1330.9 472.3,1333.8 474.2,1336.6 476.1,1339.1 478.0,1341.4 479.9,1343.9 481.8,1346.3 483.7,1348.1 485.6,1349.0 487.5,1349.2 489.3,1349.2 491.2,1349.2 493.1,1349.2 495.0,1349.2 496.9,1349.2 498.8,1349.2 500.7,1349.2 502.6,1349.2 504.5,1349.2 506.4,1349.2 508.3,1349.2 510.1,1349.2 512.0,1349.2 513.9,1349.2 515.8,1349.2 517.7,1349.2 519.6,1349.2 521.5,1349.2 523.4,1349.2 525.3,1349.2 527.2,1349.2 529.1,1349.2 530.9,1349.2 532.8,1349.2 534.7,1349.2 536.6,1349.2 538.5,1349.2 540.4,1349.2 542.3,1349.2 544.2,1349.2 546.1,1349.2 548.0,1349.2 549.9,1349.2 551.7,1349.2 553.6,1349.2 555.5,1349.2 557.4,1349.2 559.3,1349.2 561.2,1349.2 563.1,1349.2 565.0,1349.2 566.9,1349.2 568.8,1349.2 570.7,1349.2 572.5,1349.2 574.4,1349.2 576.3,1349.2 578.2,1349.2 580.1,1349.2 582.0,1349.2 583.9,1349.2 585.8,1349.2 587.7,1349.2 589.6,1349.2 591.5,1349.2 593.3,1349.2 595.2,1349.2 597.1,1349.2 599.0,1349.2 600.9,1349.2 602.8,1349.3 604.7,1349.3 606.6,1349.3 608.5,1349.3 610.4,1349.3 612.3,1349.3 614.1,1349.3 616.0,1349.3 617.9,1349.3 619.8,1349.3 621.7,1349.3 623.6,1349.3 625.5,1349.3 627.4,1349.3 629.3,1349.3 631.2,1349.3 633.1,1349.3 634.9,1349.3 636.8,1349.3 638.7,1349.3 640.6,1349.3 642.5,1349.3 644.4,1349.3 646.3,1349.3 648.2,1349.3 650.1,1349.3 652.0,1349.3 653.9,1349.3 655.7,1349.3 657.6,1349.4 659.5,1349.4 661.4,1349.4 663.3,1349.4 665.2,1349.4 667.1,1349.4 669.0,1349.4 670.9,1349.4 672.8,1349.4 674.7,1349.4 676.5,1349.4 678.4,1349.4 680.3,1349.4 682.2,1349.4 684.1,1349.4 686.0,1349.4"/>
<polyline stroke="#ff0000" points="166.0,1346.4 167.9,1346.5 169.8,1346.5 171.7,1346.5 173.6,1346.5 175.5,1346.5 177.3,1346.5 179.2,1346.6 181.1,1346.6 183.0,1346.6 184.9,1346.6 186.8,1346.6 188.7,1346.6 190.6,1346.6 192.5,1346.6 194.4,1346.7 196.3,1346.7 198.1,1346.7 200.0,1346.7 201.9,1346.7 203.8,1346.7 205.7,1346.7 207.6,1346.7 209.5,1346.7 211.4,1346.7 213.3,1346.7 215.2,1346.7 217.1,1346.7 218.9,1346.7 220.8,1346.7 222.7,1346.7 224.6,1346.7 226.5,1346.7 228.4,1346.6 230.3,1346.6 232.2,1346.6 234.1,1346.6 236.0,1346.6 237.9,1346.6 239.7,1346.6 241.6,1346.6 243.5,1346.6 245.4,1346.6 247.3,1346.5 249.2,1346.5 251.1,1346.5 253.0,1346.5 254.9,1346.5 256.8,1346.5 258.7,1346.4 260.5,1346.4 262.4,1346.4 264.3,1346.4 266.2,1346.3 268.1,1346.3 270.0,1346.2 271.9,1346.2 273.8,1346.1 275.7,1346.0 277.6,1345.9 279.5,1345.8 281.3,1345.7 283.2,1345.6 285.1,1345.4 287.0,1345.2 288.9,1344.8 290.8,1344.3 292.7,1343.6 294.6,1342.9 296.5,1342.0 298.4,1341.1 300.3,1340.0 302.1,1339.0 304.0,1337.8 305.9,1336.7 307.8,1335.5 309.7,1334.3 311.6,1332.9 313.5,1331.3 315.4,1329.5 317.3,1327.5 319.2,1325.4 321.1,1323.0 322.9,1320.3 324.8,1317.2 326.7,1313.8 328.6,1310.2 330.5,1306.0 332.4,1301.0 334.3,1295.4 336.2,1288.8 338.1,1281.1 340.0,1272.5 341.9,1262.2 343.7,1250.4 345.6,1237.5 347.5,1222.9 349.4,1207.6 351.3,1192.6 353.2,1177.4 355.1,1161.3 357.0,1144.3 358.9,1125.8 360.8,1104.8 362.7,1082.1 364.5,1059.3 366.4,1036.1 368.3,1013.4 370.2,991.0 372.1,969.1 374.0,947.7 375.9,927.0 377.8,907.6 379.7,890.9 381.6,876.0 383.5,862.1 385.3,849.3 387.2,838.0 389.1,828.2 391.0,820.0 392.9,813.7 394.8,808.8 396.7,806.2 398.6,805.0 400.5,806.1 402.4,808.8 404.3,813.9 406.1,820.7 408.0,829.5 409.9,840.1 411.8,852.3 413.7,866.1 415.6,881.0 417.5,897.4 419.4,915.4 421.3,935.3 423.2,957.7 425.1,982.0 426.9,1005.4 428.8,1028.7 430.7,1052.2 432.6,1074.3 434.5,1093.7 436.4,1110.7 438.3,1126.0 440.2,1139.7 442.1,1152.4 444.0,1164.8 445.9,1177.3 447.7,1189.6 449.6,1201.6 451.5,1213.3 453.4,1224.8 455.3,1235.9 457.2,1246.5 459.1,1256.8 461.0,1265.4 462.9,1272.6 464.8,1279.0 466.7,1284.9 468.5,1290.5 470.4,1295.6 472.3,1300.3 474.2,1304.4 476.1,1308.3 478.0,1311.9 479.9,1315.3 481.8,1318.3 483.7,1320.9 485.6,1323.1 487.5,1325.2 489.3,1327.2 491.2,1329.0 493.1,1330.7 495.0,1332.1 496.9,1333.4 498.8,1334.5 500.7,1335.4 502.6,1336.3 504.5,1337.1 506.4,1337.8 508.3,1338.5 510.1,1339.2 512.0,1339.8 513.9,1340.3 515.8,1340.8 517.7,1341.4 519.6,1341.9 521.5,1342.4 523.4,1342.9 525.3,1343.4 527.2,1343.8 529.1,1344.2 530.9,1344.5 532.8,1344.8 534.7,1344.9 536.6,1345.1 538.5,1345.2 540.4,1345.3 542.3,1345.4 544.2,1345.5 546.1,1345.6 548.0,1345.7 549.9,1345.8 551.7,1345.9 553.6,1346.0 555.5,1346.1 557.4,1346.2 559.3,1346.2 561.2,1346.3 563.1,1346.3 565.0,1346.4 566.9,1346.5 568.8,1346.5 570.7,1346.5 572.5,1346.6 574.4,1346.6 576.3,1346.6 578.2,1346.7 580.1,1346.7 582.0,1346.7 583.9,1346.7 585.8,1346.7 587.7,1346.7 589.6,1346.6 591.5,1346.6 593.3,1346.5 595.2,1346.5 597.1,1346.4 599.0,1346.3 600.9,1346.2 602.8,1346.1 604.7,1346.0 606.6,1345.9 608.5,1345.8 610.4,1345.7 612.3,1345.6 614.1,1345.5 616.0,1345.3 617.9,1345.2 619.8,1345.1 621.7,1345.0 623.6,1344.8 625.5,1344.6 627.4,1344.4 629.3,1344.2 631.2,1344.0 633.1,1343.7 634.9,1343.5 636.8,1343.2 638.7,1343.0 640.6,1342.7 642.5,1342.5 644.4,1342.4 646.3,1342.3 648.2,1342.2 650.1,1342.2 652.0,1342.2 653.9,1342.3 655.7,1342.3 657.6,1342.4 659.5,1342.6 661.4,1342.7 663.3,1342.8 665.2,1343.0 667.1,1343.1 669.0,1343.2 670.9,1343.4 672.8,1343.5 674.7,1343.6 676.5,1343.7 678.4,1343.9 680.3,1344.0 682.2,1344.1 684.1,1344.3 686.0,1344.4"/>
<polyline stroke="#0000ff" points="166.0,1344.4 167.9,1344.4 169.8,1344.4 171.7,1344.4 173.6,1344.4 175.5,1344.4 177.3,1344.4 179.2,1344.4 181.1,1344.4 183.0,1344.4 184.9,1344.4 186.8,1344.4 188.7,1344.4 190.6,1344.4 192.5,1344.4 194.4,1344.4 196.3,1344.4 198.1,1344.4 200.0,1344.4 201.9,1344.4 203.8,1344.4 205.7,1344.4 207.6,1344.4 209.5,1344.4 211.4,1344.4 213.3,1344.4 215.2,1344.4 217.1,1344.4 218.9,1344.4 220.8,1344.4 222.7,1344.4 224.6,1344.4 226.5,1344.4 228.4,1344.4 230.3,1344.3 232.2,1344.3 234.1,1344.3 236.0,1344.3 237.9,1344.3 239.7,1344.2 241.6,1344.2 243.5,1344.2 245.4,1344.2 247.3,1344.1 249.2,1344.1 251.1,1344.1 253.0,1344.1 254.9,1344.0 256.8,1344.0 258.7,1344.0 260.5,1343.9 262.4,1343.9 264.3,1343.8 266.2,1343.8 268.1,1343.8 270.0,1343.7 271.9,1343.6 273.8,1343.6 275.7,1343.5 277.6,1343.4 279.5,1343.3 281.3,1343.2 283.2,1343.1 285.1,1342.9 287.0,1342.7 288.9,1342.5 290.8,1342.1 292.7,1341.7 294.6,1341.2 296.5,1340.7 298.4,1340.1 300.3,1339.5 302.1,1338.8 304.0,1338.1 305.9,1337.2 307.8,1336.1 309.7,1334.8 311.6,1333.3 313.5,1331.6 315.4,1329.6 317.3,1327.4 319.2,1324.8 321.1,1322.0 322.9,1318.9 324.8,1315.3 326.7,1311.2 328.6,1306.4 330.5,1300.8 332.4,1292.9 334.3,1284.0 336.2,1275.9 338.1,1267.6 340.0,1255.5 341.9,1240.6 343.7,1227.7 345.6,1215.4 347.5,1203.0 349.4,1190.6 351.3,1178.2 353.2,1165.2 355.1,1151.6 357.0,1137.4 358.9,1122.3 360.8,1106.1 362.7,1089.0 364.5,1071.7 366.4,1054.5 368.3,1037.2 370.2,1019.8 372.1,1002.7 374.0,985.4 375.9,967.8 377.8,950.1 379.7,933.6 381.6,918.1 383.5,904.0 385.3,891.2 387.2,880.0 389.1,870.6 391.0,862.9 392.9,857.1 394.8,853.5 396.7,851.8 398.6,852.3 400.5,854.5 402.4,859.3 404.3,865.9 406.1,874.5 408.0,885.0 409.9,897.3 411.8,911.0 413.7,926.1 415.6,942.6 417.5,960.9 419.4,980.1 421.3,999.1 423.2,1017.8 425.1,1035.1 426.9,1051.5 428.8,1067.2 430.7,1082.3 432.6,1096.7 434.5,1110.6 436.4,1124.3 438.3,1137.8 440.2,1151.0 442.1,1163.9 444.0,1176.5 445.9,1188.7 447.7,1200.6 449.6,1212.1 451.5,1223.5 453.4,1234.5 455.3,1245.0 457.2,1255.2 459.1,1264.0 461.0,1271.4 462.9,1278.0 464.8,1283.9 466.7,1289.4 468.5,1294.5 470.4,1299.1 472.3,1303.3 474.2,1307.2 476.1,1311.0 478.0,1314.5 479.9,1317.6 481.8,1320.3 483.7,1322.5 485.6,1324.4 487.5,1326.3 489.3,1327.9 491.2,1329.5 493.1,1330.8 495.0,1332.0 496.9,1333.0 498.8,1333.9 500.7,1334.7 502.6,1335.5 504.5,1336.2 506.4,1336.8 508.3,1337.4 510.1,1337.9 512.0,1338.4 513.9,1338.9 515.8,1339.4 517.7,1339.9 519.6,1340.4 521.5,1340.9 523.4,1341.3 525.3,1341.8 527.2,1342.2 529.1,1342.5 530.9,1342.8 532.8,1343.0 534.7,1343.2 536.6,1343.3 538.5,1343.4 540.4,1343.5 542.3,1343.6 544.2,1343.6 546.1,1343.7 548.0,1343.8 549.9,1343.8 551.7,1343.9 553.6,1343.9 555.5,1343.9 557.4,1343.9 559.3,1343.9 561.2,1343.9 563.1,1343.8 565.0,1343.7 566.9,1343.6 568.8,1343.4 570.7,1343.3 572.5,1343.1 574.4,1343.0 576.3,1342.8 578.2,1342.7 580.1,1342.7 582.0,1342.7 583.9,1342.8 585.8,1343.0 587.7,1343.3 589.6,1343.5 591.5,1343.8 593.3,1344.1 595.2,1344.3 597.1,1344.4 599.0,1344.6 600.9,1344.7 602.8,1344.8 604.7,1344.9 606.6,1345.0 608.5,1345.0 610.4,1345.1 612.3,1345.2 614.1,1345.3 616.0,1345.4 617.9,1345.4 619.8,1345.5 621.7,1345.6 623.6,1345.6 625.5,1345.7 627.4,1345.7 629.3,1345.8 631.2,1345.8 633.1,1345.9 634.9,1345.9 636.8,1346.0 638.7,1346.0 640.6,1346.1 642.5,1346.1 644.4,1346.2 646.3,1346.2 648.2,1346.3 650.1,1346.3 652.0,1346.4 653.9,1346.4 655.7,1346.5 657.6,1346.5 659.5,1346.5 661.4,1346.6 663.3,1346.6 665.2,1346.7 667.1,1346.7 669.0,1346.7 670.9,1346.8 672.8,1346.8 674.7,1346.8 676.5,1346.8 678.4,1346.9 680.3,1346.9 682.2,1346.9 684.1,1346.9 686.0,1346.9"/>
<polyline stroke="#ff00ff" points="166.0,1338.2 167.9,1338.3 169.8,1338.3 171.7,1338.4 173.6,1338.4 175.5,1338.4 177.3,1338.5 179.2,1338.5 181.1,1338.5 183.0,1338.6 184.9,1338.6 186.8,1338.6 188.7,1338.6 190.6,1338.6 192.5,1338.7 194.4,1338.7 196.3,1338.7 198.1,1338.7 200.0,1338.7 201.9,1338.7 203.8,1338.7 205.7,1338.7 207.6,1338.7 209.5,1338.7 211.4,1338.7 213.3,1338.7 215.2,1338.7 217.1,1338.7 218.9,1338.6 220.8,1338.6 222.7,1338.6 224.6,1338.5 226.5,1338.5 228.4,1338.4 230.3,1338.4 232.2,1338.3 234.1,1338.3 236.0,1338.2 237.9,1338.1 239.7,1338.0 241.6,1338.0 243.5,1337.9 245.4,1337.8 247.3,1337.7 249.2,1337.6 251.1,1337.5 253.0,1337.4 254.9,1337.3 256.8,1337.1 258.7,1337.0 260.5,1336.9 262.4,1336.7 264.3,1336.5 266.2,1336.3 268.1,1336.0 270.0,1335.6 271.9,1335.3 273.8,1334.8 275.7,1334.4 277.6,1333.9 279.5,1333.4 281.3,1332.8 283.2,1332.2 285.1,1331.6 287.0,1330.9 288.9,1330.2 290.8,1329.5 292.7,1328.8 294.6,1327.8 296.5,1326.7 298.4,1325.4 300.3,1324.0 302.1,1322.4 304.0,1320.6 305.9,1318.8 307.8,1316.7 309.7,1314.2 311.6,1311.4 313.5,1308.3 315.4,1305.0 317.3,1301.5 319.2,1297.8 321.1,1293.7 322.9,1289.0 324.8,1283.7 326.7,1277.1 328.6,1269.0 330.5,1260.3 332.4,1251.0 334.3,1241.3 336.2,1231.6 338.1,1221.7 340.0,1211.6 341.9,1201.3 343.7,1190.6 345.6,1179.6 347.5,1168.7 349.4,1158.0 351.3,1147.3 353.2,1136.8 355.1,1126.5 357.0,1116.5 358.9,1106.7 360.8,1097.1 362.7,1087.5 364.5,1077.9 366.4,1068.4 368.3,1059.4 370.2,1050.8 372.1,1043.2 374.0,1036.4 375.9,1030.8 377.8,1026.3 379.7,1022.9 381.6,1020.7 383.5,1019.8 385.3,1020.0 387.2,1021.2 389.1,1023.3 391.0,1026.5 392.9,1030.6 394.8,1035.6 396.7,1041.5 398.6,1048.2 400.5,1055.6 402.4,1063.7 404.3,1072.5 406.1,1081.9 408.0,1091.1 409.9,1100.1 411.8,1109.2 413.7,1118.4 415.6,1127.9 417.5,1137.9 419.4,1148.1 421.3,1158.4 423.2,1168.7 425.1,1178.9 426.9,1189.2 428.8,1199.4 430.7,1209.4 432.6,1219.5 434.5,1229.4 436.4,1238.9 438.3,1247.7 440.2,1255.9 442.1,1263.4 444.0,1270.5 445.9,1277.0 447.7,1282.7 449.6,1287.9 451.5,1292.6 453.4,1296.9 455.3,1300.7 457.2,1303.9 459.1,1307.0 461.0,1309.8 462.9,1312.4 464.8,1314.9 466.7,1317.1 468.5,1319.2 470.4,1321.0 472.3,1322.6 474.2,1324.2 476.1,1325.7 478.0,1327.1 479.9,1328.3 481.8,1329.5 483.7,1330.6 485.6,1331.5 487.5,1332.3 489.3,1333.0 491.2,1333.6 493.1,1334.2 495.0,1334.8 496.9,1335.3 498.8,1335.8 500.7,1336.3 502.6,1336.6 504.5,1337.0 506.4,1337.2 508.3,1337.4 510.1,1337.5 512.0,1337.7 513.9,1337.8 515.8,1337.9 517.7,1338.0 519.6,1338.1 521.5,1338.2 523.4,1338.3 525.3,1338.3 527.2,1338.4 529.1,1338.5 530.9,1338.6 532.8,1338.6 534.7,1338.7 536.6,1338.8 538.5,1338.8 540.4,1338.9 542.3,1339.0 544.2,1339.1 546.1,1339.1 548.0,1339.2 549.9,1339.3 551.7,1339.3 553.6,1339.4 555.5,1339.4 557.4,1339.4 559.3,1339.4 561.2,1339.4 563.1,1339.4 565.0,1339.4 566.9,1339.4 568.8,1339.3 570.7,1339.2 572.5,1339.2 574.4,1338.9 576.3,1338.6 578.2,1338.2 580.1,1338.0 582.0,1338.0 583.9,1338.1 585.8,1338.4 587.7,1338.7 589.6,1339.1 591.5,1339.6 593.3,1340.0 595.2,1340.4 597.1,1340.7 599.0,1341.0 600.9,1341.3 602.8,1341.5 604.7,1341.8 606.6,1342.1 608.5,1342.4 610.4,1342.6 612.3,1342.9 614.1,1343.1 616.0,1343.4 617.9,1343.6 619.8,1343.9 621.7,1344.1 623.6,1344.4 625.5,1344.6 627.4,1344.8 629.3,1345.1 631.2,1345.3 633.1,1345.5 634.9,1345.7 636.8,1345.9 638.7,1346.2 640.6,1346.4 642.5,1346.6 644.4,1346.8 646.3,1347.1 648.2,1347.3 650.1,1347.5 652.0,1347.7 653.9,1347.8 655.7,1348.0 657.6,1348.1 659.5,1348.2 661.4,1348.3 663.3,1348.3 665.2,1348.4 667.1,1348.5 669.0,1348.6 670.9,1348.6 672.8,1348.7 674.7,1348.8 676.5,1348.8 678.4,1348.9 680.3,1348.9 682.2,1348.9 684.1,1348.9 686.0,1348.9"/>
</g>
<g stroke="#000" stroke-width="2.4" fill="none" stroke-linecap="butt">
<rect x="166.0" y="791.4" width="519.8" height="571.5"/>
<path d="M166.0 1362.9v8.2M213.3 1362.9v4.8M260.5 1362.9v8.2M307.8 1362.9v4.8M355.0 1362.9v8.2M402.3 1362.9v4.8M449.5 1362.9v8.2M496.8 1362.9v4.8M544.0 1362.9v8.2M591.3 1362.9v4.8M638.5 1362.9v8.2M685.8 1362.9v4.8M166.0 1348.6h-8.2M166.0 1278.9h-4.8M166.0 1209.3h-8.2M166.0 1139.6h-4.8M166.0 1070.0h-8.2M166.0 1000.3h-4.8M166.0 930.7h-8.2M166.0 861.0h-4.8M166.0 791.4h-8.2"/>
</g>
<g class="t">
<text x="165.2" y="1412.0" text-anchor="middle">-0.4</text>
<text x="259.7" y="1412.0" text-anchor="middle">-0.2</text>
<text x="354.8" y="1412.0" text-anchor="middle">0.0</text>
<text x="449.3" y="1412.0" text-anchor="middle">0.2</text>
<text x="543.8" y="1412.0" text-anchor="middle">0.4</text>
<text x="638.3" y="1412.0" text-anchor="middle">0.6</text>
<text x="152.6" y="1362.6" text-anchor="end">0</text>
<text x="152.6" y="1223.3" text-anchor="end">100</text>
<text x="152.6" y="1084.0" text-anchor="end">200</text>
<text x="152.6" y="944.7" text-anchor="end">300</text>
<text x="152.6" y="805.4" text-anchor="end">400</text>
</g>
<text class="a" x="425.8" y="1464.9" text-anchor="middle">Potential / V vs. Ag/AgCl</text>
<text class="a" transform="translate(72.4 1071.0) rotate(-90)" text-anchor="middle">Current / <tspan class="mu">µ</tspan>A</text>
<text class="p" x="670.6" y="873.4" text-anchor="end">d<tspan dx="2.5">)</tspan></text>
</g>
<g>
<clipPath id="c11"><rect x="863.8" y="791.4" width="520.7" height="571.5"/></clipPath>
<g clip-path="url(#c11)" fill="none" stroke-linejoin="round" stroke-linecap="butt" stroke-width="8.2">
<polyline stroke="#000000" points="863.8,1341.4 865.7,1341.4 867.6,1341.4 869.5,1341.4 871.4,1341.4 873.3,1341.4 875.1,1341.4 877.0,1341.4 878.9,1341.4 880.8,1341.4 882.7,1341.4 884.6,1341.4 886.5,1341.3 888.4,1341.3 890.3,1341.3 892.2,1341.3 894.1,1341.3 895.9,1341.2 897.8,1341.2 899.7,1341.2 901.6,1341.2 903.5,1341.1 905.4,1341.1 907.3,1341.1 909.2,1341.1 911.1,1341.0 913.0,1341.0 914.9,1341.0 916.7,1341.0 918.6,1340.9 920.5,1340.9 922.4,1340.9 924.3,1340.8 926.2,1340.8 928.1,1340.8 930.0,1340.7 931.9,1340.7 933.8,1340.7 935.7,1340.6 937.5,1340.6 939.4,1340.6 941.3,1340.5 943.2,1340.5 945.1,1340.4 947.0,1340.4 948.9,1340.3 950.8,1340.3 952.7,1340.2 954.6,1340.1 956.5,1340.1 958.3,1340.0 960.2,1339.9 962.1,1339.8 964.0,1339.8 965.9,1339.7 967.8,1339.6 969.7,1339.5 971.6,1339.4 973.5,1339.2 975.4,1339.1 977.3,1338.9 979.1,1338.8 981.0,1338.6 982.9,1338.4 984.8,1338.1 986.7,1337.9 988.6,1337.6 990.5,1337.3 992.4,1337.0 994.3,1336.7 996.2,1336.4 998.1,1336.0 999.9,1335.7 1001.8,1335.3 1003.7,1334.9 1005.6,1334.4 1007.5,1333.8 1009.4,1333.2 1011.3,1332.5 1013.2,1331.8 1015.1,1331.0 1017.0,1330.1 1018.9,1329.2 1020.7,1328.2 1022.6,1327.0 1024.5,1325.6 1026.4,1324.2 1028.3,1322.6 1030.2,1321.0 1032.1,1319.4 1034.0,1317.7 1035.9,1316.0 1037.8,1314.3 1039.7,1312.5 1041.5,1310.6 1043.4,1308.5 1045.3,1306.3 1047.2,1304.0 1049.1,1301.5 1051.0,1298.6 1052.9,1295.4 1054.8,1291.9 1056.7,1288.2 1058.6,1284.3 1060.5,1280.1 1062.3,1275.5 1064.2,1270.6 1066.1,1265.4 1068.0,1260.1 1069.9,1254.5 1071.8,1248.8 1073.7,1243.0 1075.6,1237.2 1077.5,1231.4 1079.4,1225.7 1081.3,1220.1 1083.1,1214.6 1085.0,1209.2 1086.9,1204.0 1088.8,1198.9 1090.7,1194.1 1092.6,1189.7 1094.5,1185.7 1096.4,1182.1 1098.3,1179.1 1100.2,1176.5 1102.1,1174.6 1103.9,1173.2 1105.8,1172.5 1107.7,1172.2 1109.6,1172.9 1111.5,1174.4 1113.4,1176.5 1115.3,1178.8 1117.2,1182.6 1119.1,1184.3 1121.0,1184.9 1122.9,1187.9 1124.7,1194.1 1126.6,1201.2 1128.5,1207.8 1130.4,1213.8 1132.3,1219.6 1134.2,1225.2 1136.1,1230.7 1138.0,1235.9 1139.9,1241.1 1141.8,1246.4 1143.7,1251.6 1145.5,1256.8 1147.4,1261.9 1149.3,1266.8 1151.2,1271.6 1153.1,1276.3 1155.0,1280.8 1156.9,1285.2 1158.8,1289.6 1160.7,1293.8 1162.6,1297.8 1164.5,1301.7 1166.3,1305.4 1168.2,1309.0 1170.1,1312.4 1172.0,1315.6 1173.9,1318.5 1175.8,1321.2 1177.7,1323.8 1179.6,1326.2 1181.5,1328.5 1183.4,1330.4 1185.3,1332.0 1187.1,1333.3 1189.0,1334.5 1190.9,1335.7 1192.8,1336.7 1194.7,1337.7 1196.6,1338.6 1198.5,1339.4 1200.4,1340.1 1202.3,1340.6 1204.2,1341.0 1206.1,1341.3 1207.9,1341.5 1209.8,1341.7 1211.7,1341.9 1213.6,1342.0 1215.5,1342.1 1217.4,1342.3 1219.3,1342.4 1221.2,1342.5 1223.1,1342.6 1225.0,1342.7 1226.9,1342.8 1228.7,1342.9 1230.6,1343.0 1232.5,1343.2 1234.4,1343.3 1236.3,1343.5 1238.2,1343.7 1240.1,1343.9 1242.0,1344.1 1243.9,1344.3 1245.8,1344.5 1247.7,1344.7 1249.5,1344.9 1251.4,1345.1 1253.3,1345.3 1255.2,1345.5 1257.1,1345.6 1259.0,1345.8 1260.9,1345.9 1262.8,1346.1 1264.7,1346.2 1266.6,1346.4 1268.5,1346.5 1270.3,1346.6 1272.2,1346.7 1274.1,1346.9 1276.0,1347.0 1277.9,1347.0 1279.8,1347.1 1281.7,1347.2 1283.6,1347.2 1285.5,1347.2 1287.4,1347.3 1289.3,1347.3 1291.1,1347.3 1293.0,1347.4 1294.9,1347.4 1296.8,1347.4 1298.7,1347.4 1300.6,1347.5 1302.5,1347.5 1304.4,1347.5 1306.3,1347.5 1308.2,1347.6 1310.1,1347.6 1311.9,1347.6 1313.8,1347.6 1315.7,1347.6 1317.6,1347.6 1319.5,1347.6 1321.4,1347.7 1323.3,1347.7 1325.2,1347.7 1327.1,1347.7 1329.0,1347.7 1330.9,1347.7 1332.7,1347.7 1334.6,1347.7 1336.5,1347.7 1338.4,1347.7 1340.3,1347.7 1342.2,1347.7 1344.1,1347.7 1346.0,1347.7 1347.9,1347.7 1349.8,1347.7 1351.7,1347.7 1353.5,1347.7 1355.4,1347.7 1357.3,1347.7 1359.2,1347.7 1361.1,1347.7 1363.0,1347.7 1364.9,1347.7 1366.8,1347.7 1368.7,1347.7 1370.6,1347.7 1372.5,1347.7 1374.3,1347.7 1376.2,1347.7 1378.1,1347.7 1380.0,1347.7 1381.9,1347.7 1383.8,1347.7"/>
<polyline stroke="#ff0000" points="863.8,1344.4 865.7,1344.5 867.6,1344.5 869.5,1344.6 871.4,1344.6 873.3,1344.7 875.1,1344.7 877.0,1344.7 878.9,1344.8 880.8,1344.8 882.7,1344.8 884.6,1344.9 886.5,1344.9 888.4,1344.9 890.3,1344.9 892.2,1344.9 894.1,1344.9 895.9,1344.9 897.8,1344.9 899.7,1344.9 901.6,1344.9 903.5,1344.9 905.4,1344.9 907.3,1344.9 909.2,1344.9 911.1,1344.9 913.0,1344.9 914.9,1344.9 916.7,1344.9 918.6,1344.9 920.5,1344.9 922.4,1344.9 924.3,1344.9 926.2,1344.9 928.1,1344.9 930.0,1344.9 931.9,1344.9 933.8,1344.9 935.7,1344.9 937.5,1344.9 939.4,1344.8 941.3,1344.7 943.2,1344.7 945.1,1344.6 947.0,1344.5 948.9,1344.4 950.8,1344.3 952.7,1344.2 954.6,1344.1 956.5,1344.0 958.3,1343.9 960.2,1343.9 962.1,1343.8 964.0,1343.8 965.9,1343.7 967.8,1343.7 969.7,1343.6 971.6,1343.5 973.5,1343.2 975.4,1342.8 977.3,1342.2 979.1,1341.6 981.0,1340.9 982.9,1340.2 984.8,1339.4 986.7,1338.6 988.6,1337.6 990.5,1336.4 992.4,1335.1 994.3,1333.6 996.2,1331.9 998.1,1330.2 999.9,1328.1 1001.8,1325.7 1003.7,1322.9 1005.6,1319.6 1007.5,1315.2 1009.4,1309.6 1011.3,1303.8 1013.2,1298.2 1015.1,1292.5 1017.0,1286.8 1018.9,1280.8 1020.7,1274.8 1022.6,1268.5 1024.5,1261.7 1026.4,1254.1 1028.3,1245.8 1030.2,1237.2 1032.1,1228.1 1034.0,1218.5 1035.9,1208.3 1037.8,1197.3 1039.7,1185.0 1041.5,1172.1 1043.4,1159.3 1045.3,1146.5 1047.2,1133.2 1049.1,1118.7 1051.0,1102.9 1052.9,1086.1 1054.8,1068.1 1056.7,1046.7 1058.6,1023.4 1060.5,1003.5 1062.3,984.5 1064.2,964.4 1066.1,944.5 1068.0,925.5 1069.9,907.5 1071.8,891.0 1073.7,875.8 1075.6,861.9 1077.5,849.2 1079.4,838.1 1081.3,828.7 1083.1,821.0 1085.0,815.2 1086.9,811.3 1088.8,809.3 1090.7,809.3 1092.6,811.3 1094.5,815.5 1096.4,821.8 1098.3,830.3 1100.2,840.6 1102.1,852.6 1103.9,866.4 1105.8,881.5 1107.7,898.1 1109.6,915.8 1111.5,934.7 1113.4,953.7 1115.3,973.1 1117.2,994.0 1119.1,1016.6 1121.0,1039.6 1122.9,1061.6 1124.7,1080.0 1126.6,1097.8 1128.5,1115.5 1130.4,1132.6 1132.3,1149.3 1134.2,1165.0 1136.1,1179.5 1138.0,1193.1 1139.9,1205.6 1141.8,1216.9 1143.7,1227.5 1145.5,1237.6 1147.4,1247.5 1149.3,1257.2 1151.2,1265.9 1153.1,1274.0 1155.0,1281.0 1156.9,1286.7 1158.8,1291.7 1160.7,1296.1 1162.6,1300.4 1164.5,1304.8 1166.3,1309.2 1168.2,1313.4 1170.1,1317.1 1172.0,1320.1 1173.9,1322.8 1175.8,1325.2 1177.7,1327.5 1179.6,1329.4 1181.5,1331.1 1183.4,1332.5 1185.3,1333.9 1187.1,1335.1 1189.0,1336.2 1190.9,1337.2 1192.8,1338.1 1194.7,1338.9 1196.6,1339.6 1198.5,1340.3 1200.4,1340.9 1202.3,1341.5 1204.2,1341.9 1206.1,1342.3 1207.9,1342.5 1209.8,1342.6 1211.7,1342.7 1213.6,1342.7 1215.5,1342.8 1217.4,1342.9 1219.3,1342.9 1221.2,1343.0 1223.1,1343.1 1225.0,1343.1 1226.9,1343.2 1228.7,1343.3 1230.6,1343.4 1232.5,1343.4 1234.4,1343.5 1236.3,1343.5 1238.2,1343.6 1240.1,1343.7 1242.0,1343.7 1243.9,1343.8 1245.8,1343.8 1247.7,1343.8 1249.5,1343.9 1251.4,1343.9 1253.3,1343.9 1255.2,1343.9 1257.1,1343.9 1259.0,1343.9 1260.9,1343.9 1262.8,1343.9 1264.7,1343.9 1266.6,1343.9 1268.5,1343.9 1270.3,1343.9 1272.2,1343.9 1274.1,1343.9 1276.0,1343.9 1277.9,1343.9 1279.8,1343.9 1281.7,1343.9 1283.6,1343.9 1285.5,1343.9 1287.4,1343.9 1289.3,1343.9 1291.1,1343.9 1293.0,1343.9 1294.9,1343.9 1296.8,1343.9 1298.7,1343.9 1300.6,1343.9 1302.5,1343.9 1304.4,1343.9 1306.3,1343.9 1308.2,1343.9 1310.1,1343.9 1311.9,1343.9 1313.8,1343.8 1315.7,1343.7 1317.6,1343.6 1319.5,1343.5 1321.4,1343.4 1323.3,1343.3 1325.2,1343.1 1327.1,1342.9 1329.0,1342.8 1330.9,1342.6 1332.7,1342.4 1334.6,1342.2 1336.5,1341.9 1338.4,1341.6 1340.3,1341.2 1342.2,1340.8 1344.1,1340.4 1346.0,1340.0 1347.9,1339.4 1349.8,1338.8 1351.7,1338.1 1353.5,1337.3 1355.4,1336.6 1357.3,1335.8 1359.2,1335.0 1361.1,1334.0 1363.0,1333.1 1364.9,1332.1 1366.8,1331.1 1368.7,1330.1 1370.6,1329.2 1372.5,1328.3 1374.3,1327.4 1376.2,1326.5 1378.1,1325.6 1380.0,1324.7 1381.9,1323.8 1383.8,1323.0"/>
<polyline stroke="#0000ff" points="863.8,1333.2 865.7,1333.3 867.6,1333.4 869.5,1333.5 871.4,1333.6 873.3,1333.7 875.1,1333.8 877.0,1333.8 878.9,1333.9 880.8,1334.0 882.7,1334.1 884.6,1334.1 886.5,1334.2 888.4,1334.3 890.3,1334.3 892.2,1334.4 894.1,1334.4 895.9,1334.5 897.8,1334.5 899.7,1334.5 901.6,1334.6 903.5,1334.6 905.4,1334.6 907.3,1334.7 909.2,1334.7 911.1,1334.7 913.0,1334.8 914.9,1334.8 916.7,1334.8 918.6,1334.9 920.5,1334.9 922.4,1334.9 924.3,1334.9 926.2,1334.9 928.1,1334.9 930.0,1334.9 931.9,1334.9 933.8,1334.9 935.7,1334.9 937.5,1334.9 939.4,1334.9 941.3,1334.9 943.2,1334.9 945.1,1334.8 947.0,1334.8 948.9,1334.7 950.8,1334.7 952.7,1334.6 954.6,1334.6 956.5,1334.5 958.3,1334.4 960.2,1334.4 962.1,1334.3 964.0,1334.2 965.9,1334.1 967.8,1334.1 969.7,1334.0 971.6,1333.9 973.5,1333.8 975.4,1333.7 977.3,1333.6 979.1,1333.5 981.0,1333.3 982.9,1333.2 984.8,1333.0 986.7,1332.8 988.6,1332.6 990.5,1332.3 992.4,1332.1 994.3,1331.8 996.2,1331.5 998.1,1331.2 999.9,1330.8 1001.8,1330.4 1003.7,1329.8 1005.6,1328.8 1007.5,1327.5 1009.4,1326.1 1011.3,1324.5 1013.2,1322.8 1015.1,1321.0 1017.0,1318.9 1018.9,1316.4 1020.7,1313.6 1022.6,1310.3 1024.5,1306.3 1026.4,1301.9 1028.3,1297.6 1030.2,1293.1 1032.1,1288.3 1034.0,1283.1 1035.9,1277.3 1037.8,1270.8 1039.7,1263.7 1041.5,1255.8 1043.4,1247.0 1045.3,1237.7 1047.2,1227.9 1049.1,1217.7 1051.0,1207.1 1052.9,1196.2 1054.8,1184.7 1056.7,1173.0 1058.6,1161.5 1060.5,1150.0 1062.3,1138.6 1064.2,1127.3 1066.1,1116.1 1068.0,1105.1 1069.9,1094.1 1071.8,1083.0 1073.7,1072.0 1075.6,1060.1 1077.5,1045.8 1079.4,1034.0 1081.3,1023.9 1083.1,1013.3 1085.0,1003.2 1086.9,994.2 1088.8,986.4 1090.7,979.8 1092.6,974.6 1094.5,970.7 1096.4,968.3 1098.3,967.2 1100.2,967.7 1102.1,969.2 1103.9,972.2 1105.8,976.4 1107.7,981.7 1109.6,988.2 1111.5,995.7 1113.4,1004.2 1115.3,1013.4 1117.2,1024.1 1119.1,1037.7 1121.0,1051.8 1122.9,1065.5 1124.7,1078.5 1126.6,1090.9 1128.5,1102.9 1130.4,1114.6 1132.3,1125.9 1134.2,1136.7 1136.1,1147.1 1138.0,1157.5 1139.9,1168.1 1141.8,1179.2 1143.7,1190.3 1145.5,1201.2 1147.4,1211.8 1149.3,1222.2 1151.2,1232.4 1153.1,1242.2 1155.0,1251.8 1156.9,1260.8 1158.8,1268.2 1160.7,1274.7 1162.6,1280.5 1164.5,1285.6 1166.3,1290.3 1168.2,1294.7 1170.1,1298.6 1172.0,1301.9 1173.9,1304.9 1175.8,1307.6 1177.7,1310.1 1179.6,1312.4 1181.5,1314.5 1183.4,1316.4 1185.3,1318.1 1187.1,1319.7 1189.0,1321.2 1190.9,1322.6 1192.8,1323.9 1194.7,1325.0 1196.6,1326.1 1198.5,1327.0 1200.4,1327.9 1202.3,1328.6 1204.2,1329.2 1206.1,1329.8 1207.9,1330.4 1209.8,1330.9 1211.7,1331.4 1213.6,1332.0 1215.5,1332.5 1217.4,1333.1 1219.3,1333.7 1221.2,1334.3 1223.1,1334.9 1225.0,1335.5 1226.9,1336.0 1228.7,1336.4 1230.6,1336.8 1232.5,1336.9 1234.4,1337.0 1236.3,1337.1 1238.2,1337.2 1240.1,1337.3 1242.0,1337.4 1243.9,1337.4 1245.8,1337.5 1247.7,1337.5 1249.5,1337.6 1251.4,1337.6 1253.3,1337.7 1255.2,1337.7 1257.1,1337.8 1259.0,1337.8 1260.9,1337.8 1262.8,1337.9 1264.7,1337.9 1266.6,1337.9 1268.5,1337.9 1270.3,1337.9 1272.2,1338.0 1274.1,1338.0 1276.0,1338.0 1277.9,1338.0 1279.8,1338.0 1281.7,1338.1 1283.6,1338.1 1285.5,1338.1 1287.4,1338.1 1289.3,1338.1 1291.1,1338.1 1293.0,1338.1 1294.9,1338.2 1296.8,1338.2 1298.7,1338.2 1300.6,1338.2 1302.5,1338.2 1304.4,1338.2 1306.3,1338.2 1308.2,1338.2 1310.1,1338.2 1311.9,1338.2 1313.8,1338.1 1315.7,1338.1 1317.6,1338.1 1319.5,1338.0 1321.4,1338.0 1323.3,1337.9 1325.2,1337.8 1327.1,1337.7 1329.0,1337.6 1330.9,1337.5 1332.7,1337.4 1334.6,1337.2 1336.5,1336.8 1338.4,1336.3 1340.3,1335.7 1342.2,1335.3 1344.1,1334.9 1346.0,1334.6 1347.9,1334.4 1349.8,1334.1 1351.7,1333.9 1353.5,1333.7 1355.4,1333.5 1357.3,1333.2 1359.2,1332.9 1361.1,1332.6 1363.0,1332.3 1364.9,1331.9 1366.8,1331.5 1368.7,1331.2 1370.6,1330.9 1372.5,1330.5 1374.3,1330.2 1376.2,1329.9 1378.1,1329.6 1380.0,1329.2 1381.9,1328.9 1383.8,1328.6"/>
<polyline stroke="#ff00ff" points="863.8,1327.0 865.7,1327.1 867.6,1327.3 869.5,1327.4 871.4,1327.6 873.3,1327.7 875.1,1327.9 877.0,1328.0 878.9,1328.2 880.8,1328.3 882.7,1328.4 884.6,1328.5 886.5,1328.6 888.4,1328.7 890.3,1328.8 892.2,1328.9 894.1,1328.9 895.9,1329.0 897.8,1329.0 899.7,1329.0 901.6,1329.1 903.5,1329.1 905.4,1329.2 907.3,1329.2 909.2,1329.2 911.1,1329.3 913.0,1329.3 914.9,1329.3 916.7,1329.3 918.6,1329.4 920.5,1329.4 922.4,1329.4 924.3,1329.4 926.2,1329.4 928.1,1329.4 930.0,1329.4 931.9,1329.5 933.8,1329.4 935.7,1329.4 937.5,1329.4 939.4,1329.4 941.3,1329.4 943.2,1329.3 945.1,1329.3 947.0,1329.2 948.9,1329.2 950.8,1329.1 952.7,1329.1 954.6,1329.0 956.5,1329.0 958.3,1328.9 960.2,1328.9 962.1,1328.8 964.0,1328.8 965.9,1328.7 967.8,1328.7 969.7,1328.6 971.6,1328.6 973.5,1328.5 975.4,1328.4 977.3,1328.3 979.1,1328.2 981.0,1328.1 982.9,1328.0 984.8,1327.9 986.7,1327.8 988.6,1327.6 990.5,1327.4 992.4,1327.1 994.3,1326.6 996.2,1326.1 998.1,1325.4 999.9,1324.6 1001.8,1323.9 1003.7,1323.2 1005.6,1322.3 1007.5,1321.3 1009.4,1320.1 1011.3,1318.7 1013.2,1317.0 1015.1,1314.9 1017.0,1312.7 1018.9,1310.2 1020.7,1307.2 1022.6,1303.9 1024.5,1300.3 1026.4,1296.3 1028.3,1292.0 1030.2,1287.4 1032.1,1282.3 1034.0,1276.7 1035.9,1270.4 1037.8,1263.5 1039.7,1255.8 1041.5,1247.3 1043.4,1238.3 1045.3,1228.7 1047.2,1218.6 1049.1,1208.1 1051.0,1197.0 1052.9,1185.1 1054.8,1172.9 1056.7,1160.8 1058.6,1148.7 1060.5,1136.4 1062.3,1123.6 1064.2,1110.2 1066.1,1096.2 1068.0,1080.9 1069.9,1063.8 1071.8,1050.2 1073.7,1038.7 1075.6,1029.0 1077.5,1020.3 1079.4,1012.7 1081.3,1006.3 1083.1,1001.2 1085.0,997.6 1086.9,995.4 1088.8,994.6 1090.7,995.5 1092.6,997.9 1094.5,1002.0 1096.4,1007.7 1098.3,1014.8 1100.2,1023.4 1102.1,1033.4 1103.9,1043.7 1105.8,1052.7 1107.7,1062.9 1109.6,1077.2 1111.5,1091.1 1113.4,1103.6 1115.3,1115.5 1117.2,1127.2 1119.1,1138.8 1121.0,1150.1 1122.9,1161.2 1124.7,1172.0 1126.6,1182.7 1128.5,1193.0 1130.4,1202.7 1132.3,1211.6 1134.2,1220.1 1136.1,1228.1 1138.0,1235.8 1139.9,1243.1 1141.8,1250.0 1143.7,1256.5 1145.5,1262.6 1147.4,1268.2 1149.3,1273.6 1151.2,1278.5 1153.1,1282.9 1155.0,1287.0 1156.9,1290.8 1158.8,1294.4 1160.7,1297.6 1162.6,1300.4 1164.5,1302.7 1166.3,1304.7 1168.2,1306.6 1170.1,1308.2 1172.0,1309.7 1173.9,1311.1 1175.8,1312.4 1177.7,1313.6 1179.6,1314.8 1181.5,1315.8 1183.4,1316.8 1185.3,1317.7 1187.1,1318.5 1189.0,1319.4 1190.9,1320.2 1192.8,1321.0 1194.7,1321.8 1196.6,1322.5 1198.5,1323.3 1200.4,1323.9 1202.3,1324.6 1204.2,1325.2 1206.1,1325.7 1207.9,1326.3 1209.8,1326.8 1211.7,1327.3 1213.6,1327.8 1215.5,1328.3 1217.4,1328.7 1219.3,1329.2 1221.2,1329.6 1223.1,1330.0 1225.0,1330.3 1226.9,1330.7 1228.7,1331.0 1230.6,1331.2 1232.5,1331.4 1234.4,1331.6 1236.3,1331.8 1238.2,1332.0 1240.1,1332.2 1242.0,1332.3 1243.9,1332.5 1245.8,1332.6 1247.7,1332.7 1249.5,1332.9 1251.4,1333.0 1253.3,1333.0 1255.2,1333.1 1257.1,1333.2 1259.0,1333.2 1260.9,1333.3 1262.8,1333.3 1264.7,1333.4 1266.6,1333.4 1268.5,1333.5 1270.3,1333.5 1272.2,1333.5 1274.1,1333.6 1276.0,1333.6 1277.9,1333.7 1279.8,1333.7 1281.7,1333.7 1283.6,1333.8 1285.5,1333.8 1287.4,1333.8 1289.3,1333.8 1291.1,1333.9 1293.0,1333.9 1294.9,1333.9 1296.8,1333.9 1298.7,1333.9 1300.6,1333.9 1302.5,1333.9 1304.4,1333.9 1306.3,1333.9 1308.2,1333.9 1310.1,1333.9 1311.9,1333.9 1313.8,1333.9 1315.7,1333.9 1317.6,1333.9 1319.5,1333.8 1321.4,1333.8 1323.3,1333.7 1325.2,1333.6 1327.1,1333.5 1329.0,1333.4 1330.9,1333.3 1332.7,1333.2 1334.6,1332.0 1336.5,1330.6 1338.4,1329.1 1340.3,1328.2 1342.2,1328.4 1344.1,1328.9 1346.0,1329.5 1347.9,1330.0 1349.8,1330.4 1351.7,1330.7 1353.5,1331.0 1355.4,1331.3 1357.3,1331.6 1359.2,1331.9 1361.1,1332.1 1363.0,1332.4 1364.9,1332.7 1366.8,1332.9 1368.7,1333.2 1370.6,1333.5 1372.5,1333.8 1374.3,1334.2 1376.2,1334.5 1378.1,1334.8 1380.0,1335.1 1381.9,1335.5 1383.8,1335.8"/>
</g>
<g stroke="#000" stroke-width="2.4" fill="none" stroke-linecap="butt">
<rect x="863.8" y="791.4" width="519.4" height="571.5"/>
<path d="M863.8 1362.9v8.2M911.0 1362.9v4.8M958.2 1362.9v8.2M1005.5 1362.9v4.8M1052.7 1362.9v8.2M1099.9 1362.9v4.8M1147.1 1362.9v8.2M1194.3 1362.9v4.8M1241.5 1362.9v8.2M1288.8 1362.9v4.8M1336.0 1362.9v8.2M1383.2 1362.9v4.8M863.8 1348.6h-8.2M863.8 1278.9h-4.8M863.8 1209.3h-8.2M863.8 1139.6h-4.8M863.8 1070.0h-8.2M863.8 1000.3h-4.8M863.8 930.7h-8.2M863.8 861.0h-4.8M863.8 791.4h-8.2"/>
</g>
<g class="t">
<text x="862.4" y="1412.0" text-anchor="middle">-0.4</text>
<text x="956.8" y="1412.0" text-anchor="middle">-0.2</text>
<text x="1051.9" y="1412.0" text-anchor="middle">0.0</text>
<text x="1146.3" y="1412.0" text-anchor="middle">0.2</text>
<text x="1240.7" y="1412.0" text-anchor="middle">0.4</text>
<text x="1335.2" y="1412.0" text-anchor="middle">0.6</text>
<text x="849.8" y="1362.6" text-anchor="end">0</text>
<text x="849.8" y="1223.3" text-anchor="end">100</text>
<text x="849.8" y="1084.0" text-anchor="end">200</text>
<text x="849.8" y="944.7" text-anchor="end">300</text>
<text x="849.8" y="805.4" text-anchor="end">400</text>
</g>
<text class="a" x="1122.4" y="1464.9" text-anchor="middle">Potential / V vs. Ag/AgCl</text>
<text class="a" transform="translate(769.5 1071.0) rotate(-90)" text-anchor="middle">Current / <tspan class="mu">µ</tspan>A</text>
<text class="p" x="1369.0" y="873.2" text-anchor="end">e<tspan dx="1.8">)</tspan></text>
</g>
<g>
<clipPath id="c21"><rect x="1553.8" y="791.4" width="522.1" height="571.5"/></clipPath>
<g clip-path="url(#c21)" fill="none" stroke-linejoin="round" stroke-linecap="butt" stroke-width="8.2">
<polyline stroke="#000000" points="1553.8,1343.4 1555.7,1343.4 1557.6,1343.4 1559.5,1343.3 1561.4,1343.3 1563.3,1343.3 1565.1,1343.2 1567.0,1343.2 1568.9,1343.2 1570.8,1343.1 1572.7,1343.1 1574.6,1343.0 1576.5,1343.0 1578.4,1342.9 1580.3,1342.9 1582.2,1342.9 1584.1,1342.8 1585.9,1342.8 1587.8,1342.7 1589.7,1342.7 1591.6,1342.6 1593.5,1342.6 1595.4,1342.5 1597.3,1342.5 1599.2,1342.4 1601.1,1342.4 1603.0,1342.3 1604.9,1342.3 1606.7,1342.2 1608.6,1342.2 1610.5,1342.1 1612.4,1342.1 1614.3,1342.0 1616.2,1342.0 1618.1,1341.9 1620.0,1341.9 1621.9,1341.8 1623.8,1341.7 1625.7,1341.7 1627.5,1341.6 1629.4,1341.6 1631.3,1341.5 1633.2,1341.4 1635.1,1341.3 1637.0,1341.3 1638.9,1341.2 1640.8,1341.1 1642.7,1341.0 1644.6,1340.9 1646.5,1340.8 1648.3,1340.7 1650.2,1340.5 1652.1,1340.4 1654.0,1340.2 1655.9,1339.9 1657.8,1339.7 1659.7,1339.4 1661.6,1339.1 1663.5,1338.8 1665.4,1338.4 1667.3,1338.1 1669.1,1337.7 1671.0,1337.3 1672.9,1336.9 1674.8,1336.5 1676.7,1336.1 1678.6,1335.6 1680.5,1335.2 1682.4,1334.7 1684.3,1334.3 1686.2,1333.7 1688.1,1333.1 1689.9,1332.5 1691.8,1331.9 1693.7,1331.3 1695.6,1330.6 1697.5,1329.9 1699.4,1329.1 1701.3,1328.4 1703.2,1327.6 1705.1,1326.9 1707.0,1326.1 1708.9,1325.2 1710.7,1324.3 1712.6,1323.4 1714.5,1322.4 1716.4,1321.4 1718.3,1320.4 1720.2,1319.3 1722.1,1318.2 1724.0,1317.0 1725.9,1315.8 1727.8,1314.6 1729.7,1313.3 1731.5,1311.9 1733.4,1310.5 1735.3,1309.1 1737.2,1307.5 1739.1,1305.9 1741.0,1304.1 1742.9,1302.3 1744.8,1300.3 1746.7,1298.0 1748.6,1295.6 1750.5,1292.8 1752.3,1289.7 1754.2,1286.0 1756.1,1282.1 1758.0,1277.9 1759.9,1273.5 1761.8,1268.8 1763.7,1264.2 1765.6,1259.5 1767.5,1254.7 1769.4,1249.9 1771.3,1245.1 1773.1,1240.4 1775.0,1235.7 1776.9,1230.9 1778.8,1226.2 1780.7,1221.4 1782.6,1216.1 1784.5,1210.9 1786.4,1206.4 1788.3,1203.2 1790.2,1200.9 1792.1,1199.0 1793.9,1197.5 1795.8,1196.4 1797.7,1196.4 1799.6,1196.7 1801.5,1197.3 1803.4,1197.9 1805.3,1198.6 1807.2,1199.6 1809.1,1200.6 1811.0,1201.6 1812.9,1202.6 1814.7,1203.7 1816.6,1204.7 1818.5,1205.5 1820.4,1206.1 1822.3,1207.1 1824.2,1209.3 1826.1,1212.4 1828.0,1215.7 1829.9,1219.7 1831.8,1223.8 1833.7,1227.9 1835.5,1232.1 1837.4,1236.3 1839.3,1240.6 1841.2,1244.8 1843.1,1249.1 1845.0,1253.4 1846.9,1257.7 1848.8,1261.9 1850.7,1266.0 1852.6,1270.3 1854.5,1274.4 1856.3,1278.4 1858.2,1282.1 1860.1,1285.5 1862.0,1288.9 1863.9,1292.0 1865.8,1295.1 1867.7,1297.9 1869.6,1300.6 1871.5,1303.1 1873.4,1305.4 1875.3,1307.7 1877.1,1309.8 1879.0,1311.8 1880.9,1313.7 1882.8,1315.4 1884.7,1317.0 1886.6,1318.6 1888.5,1320.0 1890.4,1321.4 1892.3,1322.7 1894.2,1324.0 1896.1,1325.2 1897.9,1326.3 1899.8,1327.4 1901.7,1328.5 1903.6,1329.7 1905.5,1330.8 1907.4,1331.9 1909.3,1332.9 1911.2,1333.9 1913.1,1334.8 1915.0,1335.6 1916.9,1336.3 1918.7,1336.9 1920.6,1337.3 1922.5,1337.8 1924.4,1338.3 1926.3,1338.7 1928.2,1339.1 1930.1,1339.5 1932.0,1339.9 1933.9,1340.3 1935.8,1340.6 1937.7,1341.0 1939.5,1341.3 1941.4,1341.6 1943.3,1341.9 1945.2,1342.2 1947.1,1342.5 1949.0,1342.8 1950.9,1343.0 1952.8,1343.3 1954.7,1343.5 1956.6,1343.7 1958.5,1343.9 1960.3,1344.1 1962.2,1344.3 1964.1,1344.5 1966.0,1344.7 1967.9,1344.8 1969.8,1345.0 1971.7,1345.1 1973.6,1345.3 1975.5,1345.4 1977.4,1345.5 1979.3,1345.6 1981.1,1345.7 1983.0,1345.8 1984.9,1345.9 1986.8,1346.0 1988.7,1346.1 1990.6,1346.2 1992.5,1346.3 1994.4,1346.3 1996.3,1346.4 1998.2,1346.4 2000.1,1346.5 2001.9,1346.5 2003.8,1346.6 2005.7,1346.6 2007.6,1346.7 2009.5,1346.7 2011.4,1346.8 2013.3,1346.8 2015.2,1346.8 2017.1,1346.9 2019.0,1346.9 2020.9,1346.9 2022.7,1347.0 2024.6,1347.0 2026.5,1347.0 2028.4,1347.0 2030.3,1347.1 2032.2,1347.1 2034.1,1347.1 2036.0,1347.1 2037.9,1347.1 2039.8,1347.2 2041.7,1347.2 2043.5,1347.2 2045.4,1347.2 2047.3,1347.2 2049.2,1347.2 2051.1,1347.2 2053.0,1347.2 2054.9,1347.2 2056.8,1347.2 2058.7,1347.2 2060.6,1347.2 2062.5,1347.2 2064.3,1347.2 2066.2,1347.2 2068.1,1347.2 2070.0,1347.2 2071.9,1347.2 2073.8,1347.2"/>
<polyline stroke="#ff0000" points="1553.8,1342.4 1555.7,1342.4 1557.6,1342.4 1559.5,1342.4 1561.4,1342.4 1563.3,1342.4 1565.1,1342.4 1567.0,1342.4 1568.9,1342.4 1570.8,1342.4 1572.7,1342.4 1574.6,1342.4 1576.5,1342.4 1578.4,1342.4 1580.3,1342.4 1582.2,1342.4 1584.1,1342.4 1585.9,1342.4 1587.8,1342.4 1589.7,1342.4 1591.6,1342.4 1593.5,1342.4 1595.4,1342.4 1597.3,1342.4 1599.2,1342.4 1601.1,1342.4 1603.0,1342.4 1604.9,1342.3 1606.7,1342.3 1608.6,1342.2 1610.5,1342.1 1612.4,1342.0 1614.3,1341.9 1616.2,1341.8 1618.1,1341.7 1620.0,1341.6 1621.9,1341.5 1623.8,1341.4 1625.7,1341.2 1627.5,1341.0 1629.4,1340.8 1631.3,1340.6 1633.2,1340.3 1635.1,1340.1 1637.0,1339.8 1638.9,1339.5 1640.8,1339.3 1642.7,1339.0 1644.6,1338.8 1646.5,1338.5 1648.3,1338.3 1650.2,1338.0 1652.1,1337.7 1654.0,1337.4 1655.9,1337.1 1657.8,1336.8 1659.7,1336.4 1661.6,1336.1 1663.5,1335.6 1665.4,1335.2 1667.3,1334.7 1669.1,1334.1 1671.0,1333.6 1672.9,1333.0 1674.8,1332.3 1676.7,1331.6 1678.6,1330.9 1680.5,1330.2 1682.4,1329.5 1684.3,1328.6 1686.2,1327.8 1688.1,1326.8 1689.9,1325.8 1691.8,1324.7 1693.7,1323.6 1695.6,1322.3 1697.5,1320.9 1699.4,1319.3 1701.3,1317.5 1703.2,1315.5 1705.1,1313.4 1707.0,1311.1 1708.9,1308.6 1710.7,1306.1 1712.6,1303.4 1714.5,1300.7 1716.4,1297.7 1718.3,1294.5 1720.2,1291.0 1722.1,1287.4 1724.0,1283.5 1725.9,1279.4 1727.8,1274.9 1729.7,1270.2 1731.5,1265.2 1733.4,1260.1 1735.3,1254.8 1737.2,1249.2 1739.1,1243.4 1741.0,1237.2 1742.9,1230.7 1744.8,1224.0 1746.7,1217.2 1748.6,1210.2 1750.5,1203.1 1752.3,1196.0 1754.2,1188.8 1756.1,1181.3 1758.0,1173.3 1759.9,1166.0 1761.8,1160.5 1763.7,1155.8 1765.6,1151.5 1767.5,1147.7 1769.4,1144.5 1771.3,1141.9 1773.1,1140.0 1775.0,1138.6 1776.9,1138.0 1778.8,1138.0 1780.7,1138.5 1782.6,1139.7 1784.5,1141.3 1786.4,1143.5 1788.3,1146.2 1790.2,1149.5 1792.1,1153.2 1793.9,1157.3 1795.8,1161.8 1797.7,1166.6 1799.6,1171.7 1801.5,1176.8 1803.4,1182.0 1805.3,1187.2 1807.2,1192.3 1809.1,1197.5 1811.0,1202.8 1812.9,1208.3 1814.7,1213.9 1816.6,1219.5 1818.5,1225.2 1820.4,1231.1 1822.3,1236.9 1824.2,1242.6 1826.1,1248.0 1828.0,1253.3 1829.9,1258.4 1831.8,1263.1 1833.7,1267.4 1835.5,1271.5 1837.4,1275.4 1839.3,1279.0 1841.2,1282.2 1843.1,1285.2 1845.0,1288.0 1846.9,1290.6 1848.8,1293.1 1850.7,1295.4 1852.6,1297.6 1854.5,1299.7 1856.3,1301.6 1858.2,1303.5 1860.1,1305.3 1862.0,1306.9 1863.9,1308.6 1865.8,1310.1 1867.7,1311.6 1869.6,1313.0 1871.5,1314.4 1873.4,1315.7 1875.3,1317.0 1877.1,1318.2 1879.0,1319.3 1880.9,1320.3 1882.8,1321.4 1884.7,1322.3 1886.6,1323.3 1888.5,1324.2 1890.4,1325.0 1892.3,1325.9 1894.2,1326.6 1896.1,1327.4 1897.9,1328.1 1899.8,1328.8 1901.7,1329.5 1903.6,1330.1 1905.5,1330.7 1907.4,1331.3 1909.3,1331.9 1911.2,1332.4 1913.1,1332.9 1915.0,1333.4 1916.9,1333.8 1918.7,1334.2 1920.6,1334.6 1922.5,1334.9 1924.4,1335.3 1926.3,1335.6 1928.2,1335.9 1930.1,1336.2 1932.0,1336.5 1933.9,1336.8 1935.8,1337.1 1937.7,1337.4 1939.5,1337.6 1941.4,1337.9 1943.3,1338.2 1945.2,1338.5 1947.1,1338.8 1949.0,1339.1 1950.9,1339.3 1952.8,1339.6 1954.7,1339.8 1956.6,1340.1 1958.5,1340.3 1960.3,1340.5 1962.2,1340.7 1964.1,1340.9 1966.0,1341.1 1967.9,1341.2 1969.8,1341.3 1971.7,1341.4 1973.6,1341.5 1975.5,1341.5 1977.4,1341.6 1979.3,1341.7 1981.1,1341.7 1983.0,1341.8 1984.9,1341.8 1986.8,1341.9 1988.7,1341.9 1990.6,1342.0 1992.5,1342.0 1994.4,1342.1 1996.3,1342.1 1998.2,1342.2 2000.1,1342.2 2001.9,1342.2 2003.8,1342.3 2005.7,1342.3 2007.6,1342.3 2009.5,1342.4 2011.4,1342.4 2013.3,1342.4 2015.2,1342.4 2017.1,1342.4 2019.0,1342.4 2020.9,1342.4 2022.7,1342.4 2024.6,1342.4 2026.5,1342.4 2028.4,1342.4 2030.3,1342.4 2032.2,1342.3 2034.1,1342.3 2036.0,1342.3 2037.9,1342.2 2039.8,1342.2 2041.7,1342.1 2043.5,1342.1 2045.4,1342.0 2047.3,1341.9 2049.2,1341.9 2051.1,1341.8 2053.0,1341.8 2054.9,1341.7 2056.8,1341.6 2058.7,1341.5 2060.6,1341.4 2062.5,1341.3 2064.3,1341.3 2066.2,1341.2 2068.1,1341.0 2070.0,1340.9 2071.9,1340.8 2073.8,1340.7"/>
<polyline stroke="#0000ff" points="1553.8,1327.9 1555.7,1328.0 1557.6,1328.1 1559.5,1328.1 1561.4,1328.2 1563.3,1328.2 1565.1,1328.3 1567.0,1328.3 1568.9,1328.4 1570.8,1328.4 1572.7,1328.5 1574.6,1328.5 1576.5,1328.6 1578.4,1328.6 1580.3,1328.6 1582.2,1328.7 1584.1,1328.7 1585.9,1328.7 1587.8,1328.7 1589.7,1328.7 1591.6,1328.8 1593.5,1328.8 1595.4,1328.8 1597.3,1328.8 1599.2,1328.8 1601.1,1328.9 1603.0,1328.9 1604.9,1328.9 1606.7,1328.9 1608.6,1328.9 1610.5,1328.9 1612.4,1328.9 1614.3,1328.9 1616.2,1328.9 1618.1,1328.9 1620.0,1328.9 1621.9,1329.0 1623.8,1329.0 1625.7,1329.0 1627.5,1329.0 1629.4,1329.0 1631.3,1329.0 1633.2,1329.0 1635.1,1329.0 1637.0,1329.0 1638.9,1329.0 1640.8,1329.0 1642.7,1329.0 1644.6,1329.0 1646.5,1329.0 1648.3,1329.0 1650.2,1328.9 1652.1,1328.9 1654.0,1328.9 1655.9,1328.8 1657.8,1328.7 1659.7,1328.6 1661.6,1328.5 1663.5,1328.4 1665.4,1328.3 1667.3,1328.2 1669.1,1328.0 1671.0,1327.9 1672.9,1327.7 1674.8,1327.6 1676.7,1327.4 1678.6,1327.2 1680.5,1327.1 1682.4,1326.8 1684.3,1326.6 1686.2,1326.2 1688.1,1325.9 1689.9,1325.5 1691.8,1325.0 1693.7,1324.5 1695.6,1324.0 1697.5,1323.4 1699.4,1322.7 1701.3,1321.9 1703.2,1321.0 1705.1,1320.0 1707.0,1318.9 1708.9,1317.7 1710.7,1316.1 1712.6,1314.3 1714.5,1312.3 1716.4,1310.1 1718.3,1307.7 1720.2,1305.2 1722.1,1302.5 1724.0,1299.7 1725.9,1296.5 1727.8,1293.0 1729.7,1289.2 1731.5,1285.2 1733.4,1281.1 1735.3,1276.7 1737.2,1272.0 1739.1,1267.0 1741.0,1261.8 1742.9,1256.3 1744.8,1250.4 1746.7,1244.3 1748.6,1238.1 1750.5,1231.7 1752.3,1225.2 1754.2,1218.8 1756.1,1212.5 1758.0,1206.2 1759.9,1200.2 1761.8,1194.5 1763.7,1188.6 1765.6,1182.2 1767.5,1175.2 1769.4,1169.1 1771.3,1163.8 1773.1,1159.6 1775.0,1156.3 1776.9,1154.2 1778.8,1153.3 1780.7,1153.4 1782.6,1154.0 1784.5,1155.3 1786.4,1157.1 1788.3,1159.5 1790.2,1162.4 1792.1,1165.9 1793.9,1169.8 1795.8,1174.1 1797.7,1179.1 1799.6,1184.1 1801.5,1188.5 1803.4,1192.7 1805.3,1196.7 1807.2,1200.9 1809.1,1205.2 1811.0,1209.7 1812.9,1214.4 1814.7,1219.1 1816.6,1223.6 1818.5,1227.9 1820.4,1232.2 1822.3,1236.3 1824.2,1240.4 1826.1,1244.4 1828.0,1248.3 1829.9,1252.2 1831.8,1256.0 1833.7,1259.6 1835.5,1263.0 1837.4,1266.1 1839.3,1269.2 1841.2,1272.1 1843.1,1274.9 1845.0,1277.6 1846.9,1280.1 1848.8,1282.3 1850.7,1284.4 1852.6,1286.5 1854.5,1288.4 1856.3,1290.3 1858.2,1292.1 1860.1,1293.8 1862.0,1295.4 1863.9,1297.0 1865.8,1298.5 1867.7,1299.9 1869.6,1301.3 1871.5,1302.6 1873.4,1303.9 1875.3,1305.1 1877.1,1306.3 1879.0,1307.5 1880.9,1308.6 1882.8,1309.7 1884.7,1310.7 1886.6,1311.7 1888.5,1312.7 1890.4,1313.7 1892.3,1314.5 1894.2,1315.4 1896.1,1316.2 1897.9,1317.0 1899.8,1317.7 1901.7,1318.4 1903.6,1319.1 1905.5,1319.7 1907.4,1320.3 1909.3,1320.9 1911.2,1321.5 1913.1,1322.1 1915.0,1322.6 1916.9,1323.2 1918.7,1323.7 1920.6,1324.3 1922.5,1324.8 1924.4,1325.3 1926.3,1325.8 1928.2,1326.3 1930.1,1326.7 1932.0,1327.1 1933.9,1327.4 1935.8,1327.6 1937.7,1327.8 1939.5,1328.0 1941.4,1328.2 1943.3,1328.3 1945.2,1328.5 1947.1,1328.6 1949.0,1328.9 1950.9,1329.1 1952.8,1329.3 1954.7,1329.6 1956.6,1329.8 1958.5,1330.0 1960.3,1330.2 1962.2,1330.4 1964.1,1330.5 1966.0,1330.7 1967.9,1330.8 1969.8,1330.9 1971.7,1330.9 1973.6,1330.9 1975.5,1330.9 1977.4,1330.9 1979.3,1330.9 1981.1,1330.9 1983.0,1330.9 1984.9,1330.9 1986.8,1330.9 1988.7,1330.9 1990.6,1330.9 1992.5,1330.6 1994.4,1329.8 1996.3,1328.7 1998.2,1327.3 2000.1,1326.3 2001.9,1326.3 2003.8,1326.8 2005.7,1327.4 2007.6,1328.2 2009.5,1329.0 2011.4,1329.7 2013.3,1330.5 2015.2,1331.3 2017.1,1332.1 2019.0,1332.9 2020.9,1333.7 2022.7,1334.5 2024.6,1335.3 2026.5,1336.2 2028.4,1337.1 2030.3,1338.0 2032.2,1338.9 2034.1,1339.7 2036.0,1340.6 2037.9,1341.4 2039.8,1342.2 2041.7,1342.9 2043.5,1343.5 2045.4,1344.0 2047.3,1344.4 2049.2,1344.7 2051.1,1345.1 2053.0,1345.4 2054.9,1345.7 2056.8,1346.0 2058.7,1346.2 2060.6,1346.5 2062.5,1346.7 2064.3,1346.9 2066.2,1347.1 2068.1,1347.2 2070.0,1347.3 2071.9,1347.4 2073.8,1347.4"/>
<polyline stroke="#ff00ff" points="1553.8,1323.2 1555.7,1323.4 1557.6,1323.6 1559.5,1323.8 1561.4,1324.0 1563.3,1324.2 1565.1,1324.4 1567.0,1324.5 1568.9,1324.7 1570.8,1324.9 1572.7,1325.0 1574.6,1325.2 1576.5,1325.3 1578.4,1325.4 1580.3,1325.5 1582.2,1325.6 1584.1,1325.7 1585.9,1325.7 1587.8,1325.8 1589.7,1325.8 1591.6,1325.8 1593.5,1325.9 1595.4,1325.9 1597.3,1326.0 1599.2,1326.0 1601.1,1326.0 1603.0,1326.0 1604.9,1326.1 1606.7,1326.1 1608.6,1326.1 1610.5,1326.1 1612.4,1326.2 1614.3,1326.2 1616.2,1326.2 1618.1,1326.2 1620.0,1326.2 1621.9,1326.2 1623.8,1326.2 1625.7,1326.2 1627.5,1326.2 1629.4,1326.2 1631.3,1326.2 1633.2,1326.2 1635.1,1326.1 1637.0,1326.1 1638.9,1326.1 1640.8,1326.1 1642.7,1326.0 1644.6,1326.0 1646.5,1326.0 1648.3,1325.9 1650.2,1325.9 1652.1,1325.9 1654.0,1325.8 1655.9,1325.7 1657.8,1325.6 1659.7,1325.5 1661.6,1325.4 1663.5,1325.3 1665.4,1325.2 1667.3,1325.0 1669.1,1324.9 1671.0,1324.8 1672.9,1324.6 1674.8,1324.4 1676.7,1324.3 1678.6,1324.1 1680.5,1323.9 1682.4,1323.7 1684.3,1323.5 1686.2,1323.2 1688.1,1322.9 1689.9,1322.5 1691.8,1322.2 1693.7,1321.8 1695.6,1321.4 1697.5,1320.9 1699.4,1320.4 1701.3,1319.7 1703.2,1319.0 1705.1,1318.1 1707.0,1317.0 1708.9,1315.8 1710.7,1314.5 1712.6,1313.2 1714.5,1311.7 1716.4,1310.1 1718.3,1308.4 1720.2,1306.5 1722.1,1304.4 1724.0,1302.1 1725.9,1299.4 1727.8,1296.1 1729.7,1292.5 1731.5,1288.6 1733.4,1284.5 1735.3,1280.4 1737.2,1275.9 1739.1,1271.2 1741.0,1266.2 1742.9,1260.9 1744.8,1255.3 1746.7,1249.3 1748.6,1243.2 1750.5,1237.0 1752.3,1230.5 1754.2,1224.1 1756.1,1217.8 1758.0,1211.4 1759.9,1205.2 1761.8,1199.2 1763.7,1193.3 1765.6,1187.4 1767.5,1181.3 1769.4,1175.4 1771.3,1170.3 1773.1,1166.2 1775.0,1163.1 1776.9,1161.0 1778.8,1160.1 1780.7,1160.2 1782.6,1160.8 1784.5,1161.7 1786.4,1163.4 1788.3,1165.4 1790.2,1167.9 1792.1,1170.8 1793.9,1174.1 1795.8,1177.9 1797.7,1182.0 1799.6,1186.4 1801.5,1191.1 1803.4,1196.3 1805.3,1201.5 1807.2,1206.4 1809.1,1211.2 1811.0,1215.8 1812.9,1220.3 1814.7,1224.7 1816.6,1229.1 1818.5,1233.4 1820.4,1237.6 1822.3,1241.6 1824.2,1245.5 1826.1,1249.4 1828.0,1253.1 1829.9,1256.7 1831.8,1260.1 1833.7,1263.3 1835.5,1266.3 1837.4,1269.2 1839.3,1271.9 1841.2,1274.6 1843.1,1277.1 1845.0,1279.4 1846.9,1281.6 1848.8,1283.6 1850.7,1285.5 1852.6,1287.4 1854.5,1289.1 1856.3,1290.8 1858.2,1292.5 1860.1,1294.0 1862.0,1295.5 1863.9,1297.0 1865.8,1298.4 1867.7,1299.7 1869.6,1301.0 1871.5,1302.2 1873.4,1303.4 1875.3,1304.6 1877.1,1305.8 1879.0,1306.9 1880.9,1308.1 1882.8,1309.1 1884.7,1310.2 1886.6,1311.2 1888.5,1312.1 1890.4,1313.0 1892.3,1313.8 1894.2,1314.6 1896.1,1315.3 1897.9,1316.0 1899.8,1316.6 1901.7,1317.1 1903.6,1317.7 1905.5,1318.2 1907.4,1318.6 1909.3,1319.1 1911.2,1319.5 1913.1,1319.9 1915.0,1320.3 1916.9,1320.6 1918.7,1321.0 1920.6,1321.3 1922.5,1321.7 1924.4,1322.0 1926.3,1322.3 1928.2,1322.6 1930.1,1322.8 1932.0,1323.1 1933.9,1323.3 1935.8,1323.5 1937.7,1323.7 1939.5,1323.9 1941.4,1324.1 1943.3,1324.2 1945.2,1324.3 1947.1,1324.4 1949.0,1324.5 1950.9,1324.6 1952.8,1324.6 1954.7,1324.6 1956.6,1324.7 1958.5,1324.7 1960.3,1324.7 1962.2,1324.6 1964.1,1324.4 1966.0,1323.1 1967.9,1318.8 1969.8,1314.4 1971.7,1313.9 1973.6,1314.8 1975.5,1315.6 1977.4,1316.4 1979.3,1317.2 1981.1,1318.0 1983.0,1318.8 1984.9,1319.6 1986.8,1320.5 1988.7,1321.3 1990.6,1322.1 1992.5,1323.0 1994.4,1323.8 1996.3,1324.6 1998.2,1325.5 2000.1,1326.3 2001.9,1327.1 2003.8,1327.9 2005.7,1328.8 2007.6,1329.6 2009.5,1330.4 2011.4,1331.3 2013.3,1332.1 2015.2,1332.9 2017.1,1333.8 2019.0,1334.6 2020.9,1335.4 2022.7,1336.3 2024.6,1337.1 2026.5,1338.0 2028.4,1338.8 2030.3,1339.7 2032.2,1340.6 2034.1,1341.4 2036.0,1342.3 2037.9,1343.1 2039.8,1343.9 2041.7,1344.8 2043.5,1345.6 2045.4,1346.3 2047.3,1347.1 2049.2,1347.9 2051.1,1348.7 2053.0,1349.2 2054.9,1349.3 2056.8,1349.3 2058.7,1349.4 2060.6,1349.4 2062.5,1349.4 2064.3,1349.4 2066.2,1349.4 2068.1,1349.4 2070.0,1349.4 2071.9,1349.4 2073.8,1349.4"/>
</g>
<g stroke="#000" stroke-width="2.4" fill="none" stroke-linecap="butt">
<rect x="1553.8" y="791.4" width="520.8" height="571.5"/>
<path d="M1553.8 1362.9v8.2M1601.1 1362.9v4.8M1648.5 1362.9v8.2M1695.8 1362.9v4.8M1743.2 1362.9v8.2M1790.5 1362.9v4.8M1837.9 1362.9v8.2M1885.2 1362.9v4.8M1932.6 1362.9v8.2M1979.9 1362.9v4.8M2027.3 1362.9v8.2M2074.6 1362.9v4.8M1553.8 1348.6h-8.2M1553.8 1278.9h-4.8M1553.8 1209.3h-8.2M1553.8 1139.6h-4.8M1553.8 1070.0h-8.2M1553.8 1000.3h-4.8M1553.8 930.7h-8.2M1553.8 861.0h-4.8M1553.8 791.4h-8.2"/>
</g>
<g class="t">
<text x="1552.5" y="1412.0" text-anchor="middle">-0.4</text>
<text x="1647.2" y="1412.0" text-anchor="middle">-0.2</text>
<text x="1742.5" y="1412.0" text-anchor="middle">0.0</text>
<text x="1837.2" y="1412.0" text-anchor="middle">0.2</text>
<text x="1931.9" y="1412.0" text-anchor="middle">0.4</text>
<text x="2026.6" y="1412.0" text-anchor="middle">0.6</text>
<text x="1539.9" y="1362.6" text-anchor="end">0</text>
<text x="1539.9" y="1223.3" text-anchor="end">100</text>
<text x="1539.9" y="1084.0" text-anchor="end">200</text>
<text x="1539.9" y="944.7" text-anchor="end">300</text>
<text x="1539.9" y="805.4" text-anchor="end">400</text>
</g>
<text class="a" x="1812.7" y="1464.9" text-anchor="middle">Potential / V vs. Ag/AgCl</text>
<text class="a" transform="translate(1459.8 1071.0) rotate(-90)" text-anchor="middle">Current / <tspan class="mu">µ</tspan>A</text>
<text class="p" x="2058.6" y="873.4" text-anchor="end">f<tspan dx="0.0">)</tspan></text>
</g>
</svg>
</body>
</html>
